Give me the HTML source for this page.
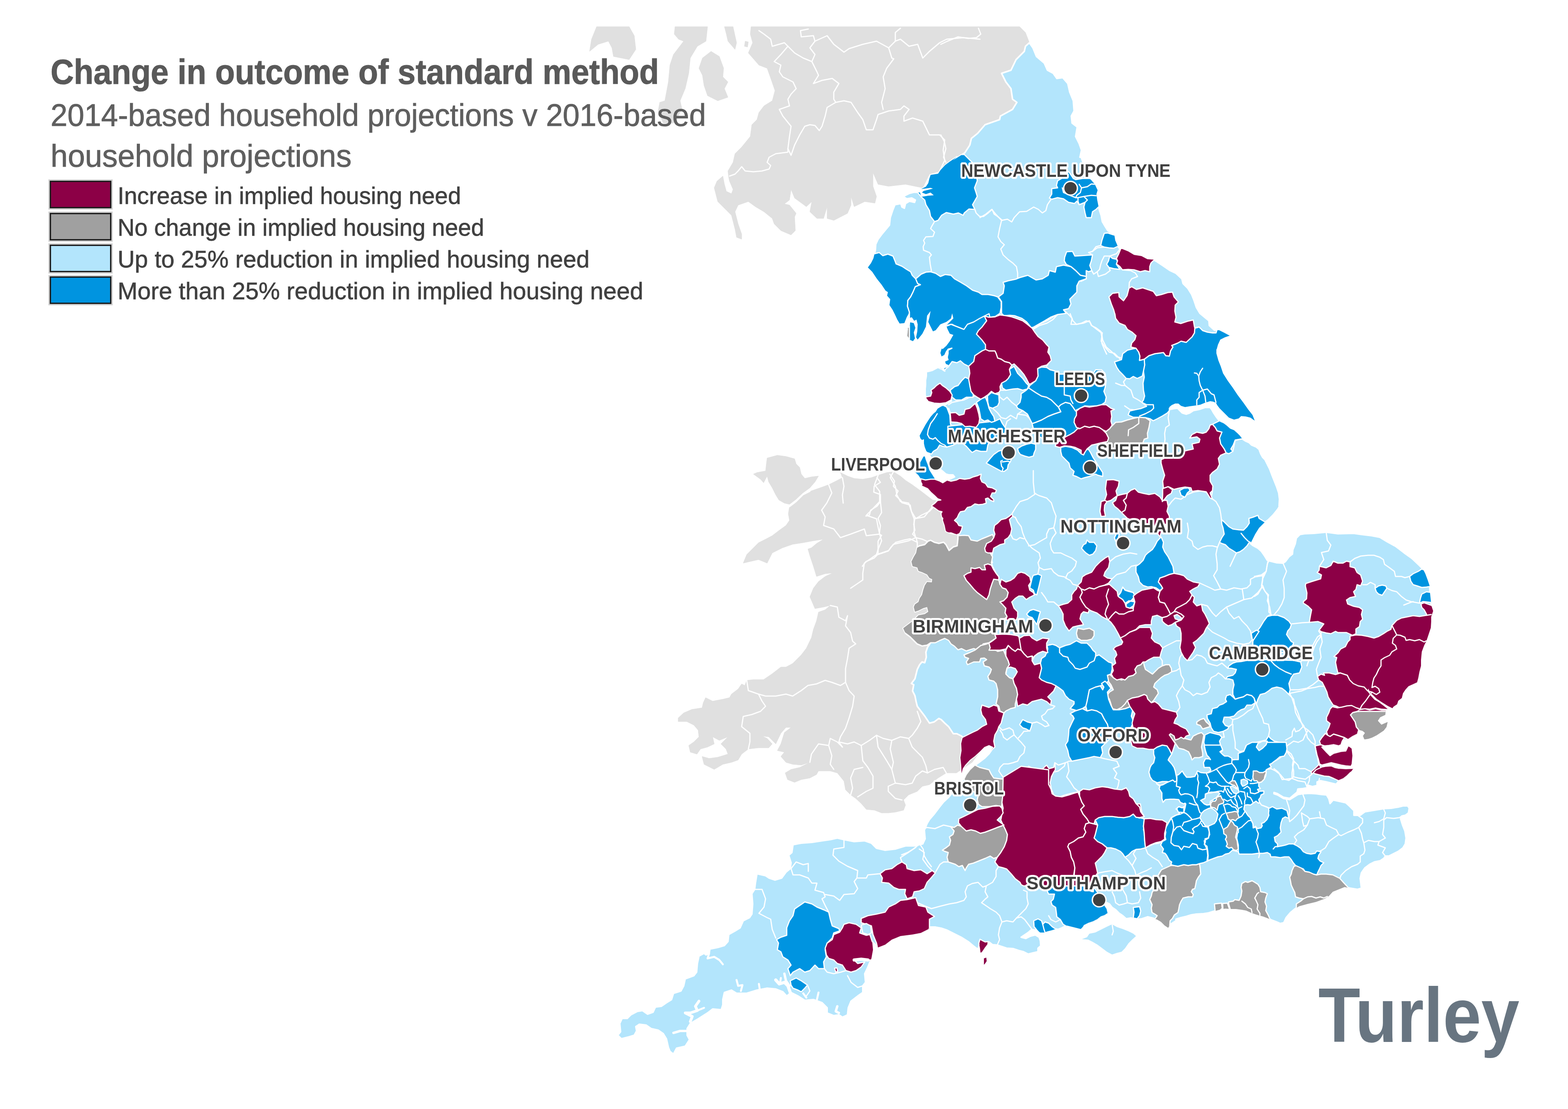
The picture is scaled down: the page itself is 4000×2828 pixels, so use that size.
<!DOCTYPE html>
<html lang="en">
<head>
<meta charset="utf-8">
<title>Change in outcome of standard method</title>
<style>
html,body{margin:0;padding:0;background:#fff;}
body{width:4000px;height:2828px;overflow:hidden;position:relative;font-family:"Liberation Sans",sans-serif;}
svg{position:absolute;left:0;top:0;display:block;}
.bg{fill:#e0e0e0;stroke:#e0e0e0;stroke-width:1;stroke-linejoin:round}
.lb{fill:#b3e5fc;stroke:#fff;stroke-width:3;stroke-linejoin:round}
.b{fill:#0094e0;stroke:#fff;stroke-width:3;stroke-linejoin:round}
.m{fill:#8c0046;stroke:#fff;stroke-width:3;stroke-linejoin:round}
.g{fill:#a0a0a0;stroke:#fff;stroke-width:3;stroke-linejoin:round}
.w{fill:#fff;stroke:none}
.gt{fill:#a0a0a0;stroke:#fff;stroke-width:3;stroke-linejoin:round}
.bt{fill:#0094e0;stroke:#fff;stroke-width:3;stroke-linejoin:round}
.mt{fill:#8c0046;stroke:#fff;stroke-width:3;stroke-linejoin:round}
.m0{fill:#8c0046}.b0{fill:#0094e0}.g0{fill:#a0a0a0}
.ln{fill:none;stroke:#fff;stroke-linejoin:round;stroke-linecap:round}
.ct{font-family:"Liberation Sans",sans-serif;font-weight:bold;font-size:47px;fill:#404040;stroke:#fff;stroke-width:10px;paint-order:stroke fill;stroke-linejoin:round}
.cd{fill:#404040;stroke:#fff;stroke-width:3.5}
.title{font-weight:bold;font-size:89px;fill:#595959;stroke:#595959;stroke-width:1.2px}
.sub{font-size:80px;fill:#5f5f5f;stroke:#5f5f5f;stroke-width:1px}
.lg{font-size:62px;fill:#404040;stroke:#404040;stroke-width:0.8px}
.sw{stroke:#1a1a1a;stroke-width:3.5}
.swo{fill:none;stroke:#d0d0d0;stroke-width:3}
.logo{font-weight:bold;font-size:196px;fill:#687581}
</style>
</head>
<body>
<svg xmlns="http://www.w3.org/2000/svg" width="4000" height="2828" viewBox="0 0 4000 2828">
<rect width="4000" height="2828" fill="#fff"/>
<g id="map">
<defs><clipPath id="eng"><polygon points="2626,109 2635,122 2644,144 2664,161 2672,179 2687,187 2696,200 2711,198 2724,213 2729,235 2738,257 2740,283 2733,296 2735,314 2748,324 2744,348 2753,366 2759,383 2755,401 2758,400 2761,409 2768,430 2780,455 2793,470 2800,485 2797,495 2799,510 2802,525 2805,537 2809,549 2812,565 2819,577 2826,588 2835,595 2843,601 2845,613 2851,627 2857,635 2863,635 2878,641 2893,650 2912,653 2927,661 2942,662 2951,667 2966,677 2985,690 3000,697 3015,711 3018,723 3030,735 3040,751 3046,766 3052,784 3061,799 3073,809 3084,818 3085,830 3098,842 3110,842 3122,848 3137,856 3125,860 3113,866 3107,879 3104,890 3103,891 3103,901 3108,919 3114,934 3120,952 3132,971 3145,989 3157,1007 3172,1027 3184,1044 3195,1058 3201,1073 3190,1065 3178,1062 3166,1061 3160,1067 3148,1070 3135,1065 3123,1053 3111,1041 3105,1033 3102,1027 3094,1024 3087,1023 3074,1027 3062,1032 3050,1034 3035,1036 3023,1038 3013,1035 3006,1029 2998,1029 2989,1033 2983,1038 2984,1044 2995,1042 3004,1041 3010,1047 3016,1053 3026,1056 3035,1053 3044,1047 3059,1044 3074,1039 3087,1039 3091,1044 3096,1053 3102,1062 3109,1071 3117,1076 3129,1085 3138,1093 3148,1097 3157,1105 3163,1111 3169,1119 3178,1125 3187,1129 3193,1135 3205,1140 3212,1146 3216,1157 3221,1166 3227,1172 3233,1184 3239,1196 3245,1212 3251,1227 3257,1242 3262,1257 3264,1273 3263,1290 3264,1291 3260,1298 3248,1313 3236,1325 3224,1334 3212,1346 3202,1362 3193,1380 3190,1386 3196,1391 3209,1398 3218,1406 3225,1416 3233,1429 3245,1432 3257,1435 3273,1436 3279,1432 3288,1420 3297,1413 3298,1402 3304,1387 3307,1372 3316,1363 3328,1361 3352,1360 3383,1357 3413,1361 3453,1360 3474,1363 3499,1366 3520,1370 3538,1381 3560,1393 3581,1409 3602,1424 3621,1442 3630,1451 3636,1463 3642,1479 3647,1494 3648,1512 3650,1530 3651,1543 3656,1558 3654,1564 3651,1573 3651,1585 3650,1601 3645,1616 3639,1634 3633,1646 3627,1662 3625,1683 3625,1698 3621,1713 3618,1729 3615,1740 3593,1750 3585,1759 3579,1768 3576,1780 3567,1787 3564,1796 3555,1802 3552,1806 3540,1800 3524,1790 3512,1782 3503,1773 3494,1765 3491,1756 3488,1762 3497,1774 3506,1784 3518,1791 3530,1800 3540,1808 3524,1807 3509,1804 3494,1807 3482,1806 3470,1807 3463,1812 3482,1809 3494,1812 3509,1809 3524,1812 3535,1812 3534,1823 3521,1829 3515,1838 3524,1848 3540,1841 3537,1854 3530,1863 3521,1869 3512,1875 3500,1881 3491,1884 3479,1886 3476,1878 3482,1869 3476,1864 3466,1861 3463,1872 3451,1878 3439,1886 3433,1887 3424,1890 3421,1899 3415,1902 3402,1899 3390,1901 3378,1902 3372,1905 3384,1918 3393,1927 3402,1921 3421,1916 3433,1915 3439,1902 3448,1909 3450,1927 3448,1948 3445,1954 3433,1953 3421,1951 3409,1948 3396,1945 3384,1948 3372,1951 3381,1954 3396,1953 3405,1957 3415,1959 3433,1960 3453,1959 3445,1970 3436,1979 3427,1986 3415,1991 3409,2000 3396,1997 3384,1994 3369,1991 3360,1994 3360,2003 3348,2006 3338,2003 3335,2009 3323,2011 3311,2012 3309,2020 3290,2036 3274,2033 3259,2024 3250,2021 3250,2024 3259,2027 3274,2036 3290,2039 3311,2026 3323,2024 3341,2023 3357,2024 3372,2026 3384,2027 3390,2037 3393,2049 3401,2040 3415,2043 3433,2047 3442,2055 3454,2067 3454,2079 3470,2079 3482,2070 3500,2067 3518,2064 3530,2062 3549,2061 3567,2058 3579,2055 3591,2055 3595,2061 3593,2073 3585,2079 3576,2081 3573,2088 3578,2104 3584,2119 3587,2137 3585,2152 3579,2162 3567,2171 3555,2177 3543,2183 3534,2183 3530,2189 3521,2195 3506,2198 3494,2204 3482,2213 3473,2226 3470,2240 3473,2265 3463,2268 3445,2265 3430,2262 3400,2274 3390,2285 3379,2292 3357,2300 3336,2305 3314,2311 3303,2318 3292,2327 3281,2340 3275,2353 3266,2355 3257,2351 3244,2346 3235,2342 3222,2337 3214,2335 3201,2331 3190,2327 3179,2322 3168,2320 3153,2318 3140,2318 3126,2317 3118,2318 3107,2321 3096,2324 3083,2328 3070,2330 3052,2331 3039,2333 3026,2337 3013,2340 3000,2344 3000,2348 2986,2357 2980,2366 2971,2360 2962,2351 2952,2345 2940,2341 2928,2338 2913,2343 2898,2345 2885,2341 2873,2343 2864,2335 2855,2329 2846,2320 2837,2314 2830,2305 2824,2302 2818,2308 2824,2317 2827,2329 2818,2335 2809,2338 2800,2345 2788,2351 2776,2355 2766,2360 2757,2369 2745,2366 2733,2363 2721,2360 2709,2366 2699,2370 2693,2369 2684,2372 2672,2375 2663,2378 2654,2378 2641,2372 2632,2370 2623,2378 2614,2384 2605,2390 2617,2393 2629,2387 2641,2384 2651,2390 2654,2399 2655,2412 2648,2418 2648,2427 2635,2430 2623,2433 2611,2427 2599,2424 2584,2419 2568,2418 2553,2413 2544,2410 2532,2409 2523,2402 2520,2409 2513,2418 2507,2427 2501,2430 2500,2418 2498,2409 2495,2421 2483,2412 2471,2402 2452,2390 2434,2381 2416,2372 2401,2367 2385,2364 2373,2364 2367,2369 2375,2366 2349,2379 2328,2383 2297,2387 2275,2396 2258,2409 2240,2416 2225,2401 2227,2422 2223,2444 2214,2466 2206,2483 2208,2505 2201,2514 2201,2531 2188,2540 2171,2553 2164,2570 2162,2588 2149,2594 2140,2588 2127,2590 2110,2583 2110,2570 2097,2557 2075,2549 2053,2551 2036,2540 2018,2531 2007,2540 1997,2529 1979,2522 1957,2520 1931,2525 1905,2533 1879,2533 1866,2525 1848,2531 1844,2549 1844,2562 1840,2575 1818,2573 1805,2583 1783,2597 1761,2610 1753,2623 1753,2640 1759,2651 1748,2668 1726,2673 1718,2688 1709,2681 1705,2671 1700,2649 1692,2636 1679,2627 1661,2623 1648,2614 1631,2612 1622,2618 1624,2629 1618,2640 1605,2644 1585,2649 1576,2640 1583,2631 1581,2610 1587,2597 1600,2597 1609,2588 1626,2579 1639,2577 1652,2586 1666,2581 1672,2568 1687,2566 1700,2557 1713,2549 1718,2533 1737,2527 1744,2514 1748,2496 1770,2488 1777,2479 1779,2457 1783,2438 1796,2431 1801,2435 1809,2431 1811,2420 1831,2416 1848,2411 1857,2401 1859,2383 1875,2374 1888,2366 1896,2348 1912,2340 1918,2331 1920,2305 1918,2279 1925,2268 1927,2252 1931,2228 1953,2233 1962,2239 1977,2244 1994,2239 2005,2224 2016,2215 2018,2200 2012,2181 2020,2174 2023,2154 2044,2150 2071,2148 2097,2144 2118,2141 2136,2137 2153,2141 2179,2146 2206,2144 2223,2150 2236,2163 2258,2168 2284,2165 2310,2157 2332,2157 2354,2152 2360,2139 2358,2117 2365,2100 2371,2090 2383,2076 2395,2060 2407,2045 2420,2033 2432,2018 2444,2002 2456,1989 2465,1977 2474,1964 2487,1952 2499,1943 2511,1934 2523,1922 2532,1909 2534,1905 2523,1900 2511,1905 2499,1917 2487,1928 2474,1938 2462,1951 2456,1960 2453,1972 2452,1951 2450,1932 2453,1914 2452,1896 2456,1880 2453,1877 2441,1871 2432,1871 2426,1862 2420,1853 2410,1844 2401,1835 2395,1832 2383,1841 2371,1844 2365,1835 2359,1826 2349,1813 2340,1801 2337,1789 2334,1774 2328,1762 2331,1746 2325,1743 2334,1731 2337,1719 2340,1707 2346,1695 2352,1688 2359,1690 2363,1676 2362,1663 2366,1651 2374,1639 2365,1645 2352,1647 2340,1642 2331,1633 2322,1624 2310,1615 2304,1602 2316,1593 2328,1584 2331,1581 2343,1569 2359,1566 2368,1560 2365,1548 2355,1551 2343,1557 2334,1560 2331,1548 2334,1541 2343,1535 2346,1526 2352,1517 2355,1505 2359,1493 2365,1484 2377,1485 2378,1477 2371,1474 2365,1465 2352,1459 2343,1456 2340,1447 2328,1444 2325,1432 2331,1420 2337,1410 2340,1395 2346,1392 2359,1389 2368,1380 2374,1378 2383,1383 2395,1386 2407,1383 2413,1389 2421,1404 2432,1395 2442,1392 2444,1374 2444,1363 2426,1360 2413,1355 2410,1340 2404,1322 2401,1305 2389,1298 2377,1290 2383,1285 2392,1277 2392,1277 2383,1263 2374,1255 2366,1246 2357,1242 2350,1239 2349,1221 2341,1213 2333,1202 2339,1191 2350,1172 2355,1163 2360,1162 2363,1172 2368,1185 2372,1198 2379,1209 2385,1220 2396,1225 2405,1230 2416,1224 2427,1220 2435,1216 2431,1211 2420,1211 2413,1209 2405,1202 2398,1196 2389,1193 2380,1181 2374,1166 2369,1157 2363,1150 2359,1140 2357,1131 2357,1120 2352,1122 2348,1118 2346,1111 2350,1103 2355,1094 2361,1083 2368,1072 2374,1063 2381,1055 2387,1050 2392,1042 2402,1036 2409,1034 2413,1031 2420,1027 2427,1022 2413,1027 2400,1029 2385,1029 2374,1027 2366,1023 2361,1013 2360,1005 2360,992 2361,981 2361,970 2363,959 2363,948 2372,946 2379,944 2392,937 2400,939 2410,946 2409,939 2418,936 2420,931 2413,928 2411,922 2420,918 2418,911 2420,902 2420,894 2430,889 2429,886 2418,889 2413,896 2409,905 2402,909 2399,900 2402,889 2405,890 2414,882 2423,870 2432,854 2423,851 2417,839 2414,830 2423,821 2432,812 2429,799 2426,812 2414,821 2399,827 2387,842 2380,845 2374,833 2368,821 2371,809 2374,793 2365,805 2362,833 2353,851 2341,866 2337,860 2340,845 2341,827 2338,815 2332,818 2326,809 2316,812 2320,796 2313,809 2307,824 2295,825 2289,815 2283,802 2277,790 2269,778 2271,763 2263,754 2265,745 2259,741 2249,726 2237,711 2225,693 2214,682 2222,671 2228,659 2231,647 2233,638 2234,623 2240,610 2249,598 2259,586 2269,574 2271,555 2277,537 2283,522 2298,519 2301,528 2307,531 2310,519 2320,513 2333,516 2335,510 2326,505 2313,507 2304,501 2320,493 2332,490 2347,491 2350,502 2368,499 2382,498 2374,491 2362,495 2352,491 2356,487 2368,484 2380,481 2374,479 2359,481 2350,482 2362,476 2368,467 2371,455 2374,446 2393,443 2399,434 2411,421 2423,412 2441,400 2400,436 2426,412 2461,390 2474,370 2478,353 2494,340 2513,318 2550,305 2552,296 2583,279 2594,261 2583,253 2579,226 2566,209 2555,187 2579,179 2592,152 2613,131 2616,118"/><polygon points="2322,822 2331,824 2335,836 2331,848 2334,863 2329,870 2320,866 2313,857 2315,839 2310,839 2320,833"/><polygon points="2760,2395 2773,2390 2779,2381 2794,2378 2806,2372 2824,2363 2837,2357 2849,2364 2864,2369 2879,2375 2891,2381 2898,2387 2888,2396 2879,2405 2870,2418 2861,2427 2849,2430 2837,2434 2824,2427 2812,2418 2800,2409 2788,2402 2776,2396"/><polygon points="2510,2444 2516,2442 2517,2451 2513,2457 2510,2460"/></clipPath></defs>
<g id="other">
<polygon class="bg" points="1916,68 2601,68 2616,83 2626,109 2616,118 2613,131 2592,152 2579,179 2555,187 2566,209 2579,226 2583,253 2594,261 2583,279 2552,296 2550,305 2513,318 2494,340 2478,353 2474,370 2461,390 2426,412 2400,436 2371,444 2354,479 2310,470 2267,475 2240,470 2227,440 2227,475 2236,501 2232,518 2206,514 2179,527 2171,501 2171,523 2162,544 2127,562 2110,557 2110,527 2101,557 2084,557 2066,540 2071,514 2057,527 2027,505 2018,483 2014,510 2001,520 2014,523 2031,544 2027,553 2029,588 2018,599 1992,588 1975,571 1970,557 1949,540 1927,527 1909,514 1883,523 1875,540 1883,571 1892,597 1892,610 1879,605 1875,584 1866,549 1848,531 1831,514 1822,479 1829,462 1844,449 1848,470 1853,488 1866,494 1870,483 1861,462 1859,453 1857,436 1870,414 1875,392 1892,375 1914,348 1918,318 1931,305 1936,287 1949,270 1970,257 1977,231 1968,205 1957,174 1936,166 1909,135 1920,109 1914,87"/>
<polygon class="bg" points="1814,131 1835,144 1846,174 1844,196 1857,209 1848,226 1857,248 1831,257 1805,244 1796,218 1792,192 1783,174 1792,148"/>
<polygon class="bg" points="1722,68 1805,68 1801,105 1779,118 1761,148 1757,187 1748,226 1735,257 1740,279 1718,314 1692,314 1679,283 1683,261 1696,257 1705,209 1709,166 1718,139 1744,105 1731,100 1720,87"/>
<polygon class="bg" points="1522,68 1605,68 1618,91 1622,126 1605,152 1565,144 1561,122 1552,105 1526,113 1504,131 1509,100"/>
<polygon class="bg" points="1848,68 1870,68 1879,109 1875,126 1857,105 1853,87"/>
<polygon class="bg" points="1901,105 1909,107 1907,120 1899,118"/>
<polygon class="bg" points="1957,1168 1983,1161 2005,1164 2027,1170 2031,1183 2040,1192 2044,1209 2053,1220 2070,1216 2088,1214 2079,1229 2066,1244 2048,1257 2031,1273 2014,1286 2001,1283 1987,1275 1979,1262 1970,1244 1961,1229 1957,1214 1948,1231 1940,1222 1922,1209 1931,1205 1953,1201 1955,1183"/>
<polygon class="bg" points="2014,1292 2031,1279 2048,1262 2066,1253 2092,1244 2114,1236 2136,1225 2149,1218 2144,1205 2162,1214 2179,1220 2201,1222 2223,1218 2240,1212 2262,1205 2279,1203 2297,1214 2310,1225 2327,1236 2345,1249 2362,1262 2379,1275 2406,1279 2484,1279 2528,1487 2528,1879 2480,1944 2453,1962 2440,1971 2414,1971 2393,1984 2371,2001 2353,2005 2340,2018 2318,2027 2305,2040 2310,2053 2305,2066 2284,2071 2266,2073 2249,2073 2231,2066 2210,2064 2197,2049 2183,2036 2170,2027 2157,2014 2153,1992 2136,1971 2118,1966 2088,1966 2083,1975 2066,1984 2044,1988 2027,1995 2009,1988 2003,1971 2018,1962 2040,1957 2066,1944 2044,1951 2022,1949 2005,1944 1992,1929 2001,1918 1983,1914 1992,1897 2001,1868 2018,1855 2005,1855 1992,1870 1979,1897 1961,1879 1944,1877 1957,1883 1970,1897 1961,1907 1935,1907 1909,1910 1892,1923 1883,1938 1866,1944 1844,1949 1822,1962 1796,1949 1791,1929 1809,1934 1831,1931 1857,1923 1852,1910 1839,1897 1857,1879 1835,1888 1818,1879 1822,1897 1805,1905 1787,1910 1778,1923 1761,1918 1757,1901 1770,1892 1783,1879 1781,1862 1770,1849 1752,1840 1730,1840 1730,1831 1744,1818 1765,1809 1791,1805 1794,1792 1800,1779 1818,1788 1844,1783 1861,1779 1866,1770 1883,1757 1892,1744 1900,1748 1905,1735 1922,1733 1948,1733 1970,1718 1992,1701 2005,1701 2022,1692 2044,1670 2057,1653 2070,1626 2075,1605 2083,1583 2088,1561 2105,1555 2118,1544 2101,1548 2079,1552 2070,1531 2066,1522 2075,1500 2088,1483 2105,1470 2125,1461 2105,1463 2083,1470 2075,1444 2066,1417 2061,1400 2070,1397 2083,1386 2101,1375 2075,1379 2048,1384 2022,1388 1996,1397 1970,1410 1957,1436 1935,1427 1913,1432 1896,1436 1905,1414 1918,1401 1935,1384 1953,1375 1970,1366 1987,1353 2005,1340 2014,1327 2011,1310"/>
<polyline class="ln" stroke-width="3" points="2118,1544 2136,1548 2140,1574 2157,1583 2162,1570 2157,1596 2170,1613 2175,1635 2183,1642 2166,1653 2162,1679 2157,1705 2157,1740 2166,1761 2179,1775 2175,1801 2166,1831 2157,1857 2144,1879 2140,1892 2149,1905"/>
<polyline class="ln" stroke-width="3" points="1905,1735 1909,1761 1935,1770 1953,1775 1979,1775 2005,1770 2022,1775 2044,1761 2061,1748 2083,1744 2105,1735 2122,1740 2144,1748 2157,1740"/>
<polyline class="ln" stroke-width="3" points="1935,1770 1944,1788 1953,1801 1940,1814 1918,1822 1896,1827 1892,1853 1913,1870 1913,1892 1909,1910"/>
<polyline class="ln" stroke-width="3" points="2140,1892 2162,1897 2179,1892 2197,1901 2218,1888 2236,1875 2253,1883 2275,1888 2297,1879 2318,1883 2327,1875 2340,1857 2349,1840 2340,1814"/>
<polyline class="ln" stroke-width="3" points="2149,1905 2136,1892 2118,1883 2114,1901 2088,1897 2070,1923 2066,1944"/>
<polyline class="ln" stroke-width="3" points="2114,1901 2122,1927 2118,1949 2127,1962"/>
<polyline class="ln" stroke-width="3" points="2197,1901 2201,1940 2214,1957 2227,1979 2227,2010 2210,2018 2188,2032"/>
<polyline class="ln" stroke-width="3" points="2236,1875 2240,1905 2262,1940 2275,1962 2284,1997 2266,2005 2266,2018 2284,2036 2301,2040"/>
<polyline class="ln" stroke-width="3" points="2275,1888 2271,1910 2279,1944 2275,1962"/>
<polyline class="ln" stroke-width="3" points="2284,1997 2310,2001 2327,1997 2336,1979 2353,1966 2366,1971 2384,1962 2406,1957 2414,1971"/>
<polyline class="ln" stroke-width="3" points="2318,1883 2327,1905 2340,1918 2353,1931 2362,1953 2366,1971"/>
<polyline class="ln" stroke-width="3" points="2170,2027 2175,2010 2170,1984 2179,1962 2201,1957"/>
<polyline class="ln" stroke-width="3" points="2114,1236 2122,1257 2109,1283 2096,1301 2105,1318 2101,1340 2127,1349 2144,1371 2170,1362 2205,1349 2210,1366 2244,1362 2249,1379 2240,1401 2236,1414 2205,1436 2201,1462 2201,1479 2170,1500"/>
<polyline class="ln" stroke-width="3" points="2149,1218 2153,1240 2149,1262 2151,1283"/>
<polyline class="ln" stroke-width="3" points="2240,1212 2231,1236 2244,1253 2244,1279 2223,1301 2210,1314 2236,1323 2240,1344 2244,1362"/>
<polyline class="ln" stroke-width="3" points="2279,1203 2271,1218 2284,1240 2288,1262 2297,1279 2318,1283 2327,1310 2332,1323 2358,1318 2379,1292"/>
<polyline class="ln" stroke-width="3" points="2332,1323 2332,1357 2336,1371 2318,1379 2279,1388 2266,1405 2240,1414"/>
<polyline class="ln" stroke-width="3" points="2336,1371 2353,1375 2366,1381"/>
<polyline class="ln" stroke-width="3" points="2014,1292 2031,1279 2048,1262 2066,1253"/>
<polyline class="ln" stroke-width="3" points="1936,78 1949,87 1966,100 1970,118 2001,109 2010,118 2027,135 2049,148 2071,157 2079,139 2066,122 2079,105 2075,91 2044,94 2042,78 2062,74"/>
<polyline class="ln" stroke-width="3" points="2071,157 2084,183 2088,192 2075,213 2097,205 2123,200 2140,213 2127,235 2127,253 2132,261 2110,274 2105,296 2097,322 2090,333 2079,320 2066,318 2053,322 2040,344 2027,370 2018,396 2010,379 2010,388 1979,392 1962,401 1957,414 1966,422 1962,431 1944,436 1922,438 1901,436 1892,425 1883,436 1875,444 1861,449"/>
<polyline class="ln" stroke-width="3" points="2010,118 1992,139 1975,157 1992,166 1988,183 1997,196 2023,209 2031,226 2018,240 2010,253 2014,270 1988,279 1997,296 2018,322 2014,348 2010,379"/>
<polyline class="ln" stroke-width="3" points="2132,261 2153,257 2171,261 2188,287 2201,305 2210,331 2227,331 2236,305 2240,292 2267,283 2297,279 2306,270 2319,279 2306,296 2306,309 2328,301 2354,309 2371,344 2397,344 2410,357 2406,383 2410,409 2397,436"/>
<polyline class="ln" stroke-width="3" points="2079,105 2110,91 2127,113 2153,133 2166,124 2201,113 2236,105 2267,122 2284,105 2297,100 2319,118 2341,113 2354,148 2371,131 2397,109 2415,100 2458,96 2500,100"/>
<polyline class="ln" stroke-width="3" points="2267,122 2275,148 2280,150 2262,174 2253,196 2258,226 2249,261 2253,279"/>
<polyline class="ln" stroke-width="3" points="2284,105 2284,83 2297,72"/>
<polyline class="ln" stroke-width="3" points="2400,113 2417,105 2444,94 2470,98 2491,96 2502,87 2496,72"/>
<polyline class="ln" stroke-width="3" points="2400,344 2409,361 2413,379 2407,401 2413,414"/>
<polyline class="ln" stroke-width="3" points="2237,1218 2246,1230 2230,1240 2229,1255 2246,1261 2246,1279 2237,1291 2221,1301 2218,1313 2209,1316"/>
<polyline class="ln" stroke-width="3" points="2270,1209 2282,1227 2279,1240 2291,1252 2285,1264 2298,1276 2301,1282 2322,1288 2325,1304 2334,1319 2337,1322 2352,1313 2371,1304 2383,1291"/>
<polyline class="ln" stroke-width="3" points="2334,1322 2331,1337 2334,1352 2328,1362 2337,1371 2340,1383 2340,1395"/>
<polyline class="ln" stroke-width="3" points="2340,1383 2322,1374 2307,1377 2285,1383 2273,1395 2267,1404 2240,1413 2230,1423 2209,1432 2200,1444"/>
<polyline class="ln" stroke-width="3" points="2246,1279 2249,1307 2240,1322 2246,1340 2243,1362 2249,1365 2240,1380 2240,1395 2240,1413"/>
</g>
<polygon points="2626,109 2635,122 2644,144 2664,161 2672,179 2687,187 2696,200 2711,198 2724,213 2729,235 2738,257 2740,283 2733,296 2735,314 2748,324 2744,348 2753,366 2759,383 2755,401 2758,400 2761,409 2768,430 2780,455 2793,470 2800,485 2797,495 2799,510 2802,525 2805,537 2809,549 2812,565 2819,577 2826,588 2835,595 2843,601 2845,613 2851,627 2857,635 2863,635 2878,641 2893,650 2912,653 2927,661 2942,662 2951,667 2966,677 2985,690 3000,697 3015,711 3018,723 3030,735 3040,751 3046,766 3052,784 3061,799 3073,809 3084,818 3085,830 3098,842 3110,842 3122,848 3137,856 3125,860 3113,866 3107,879 3104,890 3103,891 3103,901 3108,919 3114,934 3120,952 3132,971 3145,989 3157,1007 3172,1027 3184,1044 3195,1058 3201,1073 3190,1065 3178,1062 3166,1061 3160,1067 3148,1070 3135,1065 3123,1053 3111,1041 3105,1033 3102,1027 3094,1024 3087,1023 3074,1027 3062,1032 3050,1034 3035,1036 3023,1038 3013,1035 3006,1029 2998,1029 2989,1033 2983,1038 2984,1044 2995,1042 3004,1041 3010,1047 3016,1053 3026,1056 3035,1053 3044,1047 3059,1044 3074,1039 3087,1039 3091,1044 3096,1053 3102,1062 3109,1071 3117,1076 3129,1085 3138,1093 3148,1097 3157,1105 3163,1111 3169,1119 3178,1125 3187,1129 3193,1135 3205,1140 3212,1146 3216,1157 3221,1166 3227,1172 3233,1184 3239,1196 3245,1212 3251,1227 3257,1242 3262,1257 3264,1273 3263,1290 3264,1291 3260,1298 3248,1313 3236,1325 3224,1334 3212,1346 3202,1362 3193,1380 3190,1386 3196,1391 3209,1398 3218,1406 3225,1416 3233,1429 3245,1432 3257,1435 3273,1436 3279,1432 3288,1420 3297,1413 3298,1402 3304,1387 3307,1372 3316,1363 3328,1361 3352,1360 3383,1357 3413,1361 3453,1360 3474,1363 3499,1366 3520,1370 3538,1381 3560,1393 3581,1409 3602,1424 3621,1442 3630,1451 3636,1463 3642,1479 3647,1494 3648,1512 3650,1530 3651,1543 3656,1558 3654,1564 3651,1573 3651,1585 3650,1601 3645,1616 3639,1634 3633,1646 3627,1662 3625,1683 3625,1698 3621,1713 3618,1729 3615,1740 3593,1750 3585,1759 3579,1768 3576,1780 3567,1787 3564,1796 3555,1802 3552,1806 3540,1800 3524,1790 3512,1782 3503,1773 3494,1765 3491,1756 3488,1762 3497,1774 3506,1784 3518,1791 3530,1800 3540,1808 3524,1807 3509,1804 3494,1807 3482,1806 3470,1807 3463,1812 3482,1809 3494,1812 3509,1809 3524,1812 3535,1812 3534,1823 3521,1829 3515,1838 3524,1848 3540,1841 3537,1854 3530,1863 3521,1869 3512,1875 3500,1881 3491,1884 3479,1886 3476,1878 3482,1869 3476,1864 3466,1861 3463,1872 3451,1878 3439,1886 3433,1887 3424,1890 3421,1899 3415,1902 3402,1899 3390,1901 3378,1902 3372,1905 3384,1918 3393,1927 3402,1921 3421,1916 3433,1915 3439,1902 3448,1909 3450,1927 3448,1948 3445,1954 3433,1953 3421,1951 3409,1948 3396,1945 3384,1948 3372,1951 3381,1954 3396,1953 3405,1957 3415,1959 3433,1960 3453,1959 3445,1970 3436,1979 3427,1986 3415,1991 3409,2000 3396,1997 3384,1994 3369,1991 3360,1994 3360,2003 3348,2006 3338,2003 3335,2009 3323,2011 3311,2012 3309,2020 3290,2036 3274,2033 3259,2024 3250,2021 3250,2024 3259,2027 3274,2036 3290,2039 3311,2026 3323,2024 3341,2023 3357,2024 3372,2026 3384,2027 3390,2037 3393,2049 3401,2040 3415,2043 3433,2047 3442,2055 3454,2067 3454,2079 3470,2079 3482,2070 3500,2067 3518,2064 3530,2062 3549,2061 3567,2058 3579,2055 3591,2055 3595,2061 3593,2073 3585,2079 3576,2081 3573,2088 3578,2104 3584,2119 3587,2137 3585,2152 3579,2162 3567,2171 3555,2177 3543,2183 3534,2183 3530,2189 3521,2195 3506,2198 3494,2204 3482,2213 3473,2226 3470,2240 3473,2265 3463,2268 3445,2265 3430,2262 3400,2274 3390,2285 3379,2292 3357,2300 3336,2305 3314,2311 3303,2318 3292,2327 3281,2340 3275,2353 3266,2355 3257,2351 3244,2346 3235,2342 3222,2337 3214,2335 3201,2331 3190,2327 3179,2322 3168,2320 3153,2318 3140,2318 3126,2317 3118,2318 3107,2321 3096,2324 3083,2328 3070,2330 3052,2331 3039,2333 3026,2337 3013,2340 3000,2344 3000,2348 2986,2357 2980,2366 2971,2360 2962,2351 2952,2345 2940,2341 2928,2338 2913,2343 2898,2345 2885,2341 2873,2343 2864,2335 2855,2329 2846,2320 2837,2314 2830,2305 2824,2302 2818,2308 2824,2317 2827,2329 2818,2335 2809,2338 2800,2345 2788,2351 2776,2355 2766,2360 2757,2369 2745,2366 2733,2363 2721,2360 2709,2366 2699,2370 2693,2369 2684,2372 2672,2375 2663,2378 2654,2378 2641,2372 2632,2370 2623,2378 2614,2384 2605,2390 2617,2393 2629,2387 2641,2384 2651,2390 2654,2399 2655,2412 2648,2418 2648,2427 2635,2430 2623,2433 2611,2427 2599,2424 2584,2419 2568,2418 2553,2413 2544,2410 2532,2409 2523,2402 2520,2409 2513,2418 2507,2427 2501,2430 2500,2418 2498,2409 2495,2421 2483,2412 2471,2402 2452,2390 2434,2381 2416,2372 2401,2367 2385,2364 2373,2364 2367,2369 2375,2366 2349,2379 2328,2383 2297,2387 2275,2396 2258,2409 2240,2416 2225,2401 2227,2422 2223,2444 2214,2466 2206,2483 2208,2505 2201,2514 2201,2531 2188,2540 2171,2553 2164,2570 2162,2588 2149,2594 2140,2588 2127,2590 2110,2583 2110,2570 2097,2557 2075,2549 2053,2551 2036,2540 2018,2531 2007,2540 1997,2529 1979,2522 1957,2520 1931,2525 1905,2533 1879,2533 1866,2525 1848,2531 1844,2549 1844,2562 1840,2575 1818,2573 1805,2583 1783,2597 1761,2610 1753,2623 1753,2640 1759,2651 1748,2668 1726,2673 1718,2688 1709,2681 1705,2671 1700,2649 1692,2636 1679,2627 1661,2623 1648,2614 1631,2612 1622,2618 1624,2629 1618,2640 1605,2644 1585,2649 1576,2640 1583,2631 1581,2610 1587,2597 1600,2597 1609,2588 1626,2579 1639,2577 1652,2586 1666,2581 1672,2568 1687,2566 1700,2557 1713,2549 1718,2533 1737,2527 1744,2514 1748,2496 1770,2488 1777,2479 1779,2457 1783,2438 1796,2431 1801,2435 1809,2431 1811,2420 1831,2416 1848,2411 1857,2401 1859,2383 1875,2374 1888,2366 1896,2348 1912,2340 1918,2331 1920,2305 1918,2279 1925,2268 1927,2252 1931,2228 1953,2233 1962,2239 1977,2244 1994,2239 2005,2224 2016,2215 2018,2200 2012,2181 2020,2174 2023,2154 2044,2150 2071,2148 2097,2144 2118,2141 2136,2137 2153,2141 2179,2146 2206,2144 2223,2150 2236,2163 2258,2168 2284,2165 2310,2157 2332,2157 2354,2152 2360,2139 2358,2117 2365,2100 2371,2090 2383,2076 2395,2060 2407,2045 2420,2033 2432,2018 2444,2002 2456,1989 2465,1977 2474,1964 2487,1952 2499,1943 2511,1934 2523,1922 2532,1909 2534,1905 2523,1900 2511,1905 2499,1917 2487,1928 2474,1938 2462,1951 2456,1960 2453,1972 2452,1951 2450,1932 2453,1914 2452,1896 2456,1880 2453,1877 2441,1871 2432,1871 2426,1862 2420,1853 2410,1844 2401,1835 2395,1832 2383,1841 2371,1844 2365,1835 2359,1826 2349,1813 2340,1801 2337,1789 2334,1774 2328,1762 2331,1746 2325,1743 2334,1731 2337,1719 2340,1707 2346,1695 2352,1688 2359,1690 2363,1676 2362,1663 2366,1651 2374,1639 2365,1645 2352,1647 2340,1642 2331,1633 2322,1624 2310,1615 2304,1602 2316,1593 2328,1584 2331,1581 2343,1569 2359,1566 2368,1560 2365,1548 2355,1551 2343,1557 2334,1560 2331,1548 2334,1541 2343,1535 2346,1526 2352,1517 2355,1505 2359,1493 2365,1484 2377,1485 2378,1477 2371,1474 2365,1465 2352,1459 2343,1456 2340,1447 2328,1444 2325,1432 2331,1420 2337,1410 2340,1395 2346,1392 2359,1389 2368,1380 2374,1378 2383,1383 2395,1386 2407,1383 2413,1389 2421,1404 2432,1395 2442,1392 2444,1374 2444,1363 2426,1360 2413,1355 2410,1340 2404,1322 2401,1305 2389,1298 2377,1290 2383,1285 2392,1277 2392,1277 2383,1263 2374,1255 2366,1246 2357,1242 2350,1239 2349,1221 2341,1213 2333,1202 2339,1191 2350,1172 2355,1163 2360,1162 2363,1172 2368,1185 2372,1198 2379,1209 2385,1220 2396,1225 2405,1230 2416,1224 2427,1220 2435,1216 2431,1211 2420,1211 2413,1209 2405,1202 2398,1196 2389,1193 2380,1181 2374,1166 2369,1157 2363,1150 2359,1140 2357,1131 2357,1120 2352,1122 2348,1118 2346,1111 2350,1103 2355,1094 2361,1083 2368,1072 2374,1063 2381,1055 2387,1050 2392,1042 2402,1036 2409,1034 2413,1031 2420,1027 2427,1022 2413,1027 2400,1029 2385,1029 2374,1027 2366,1023 2361,1013 2360,1005 2360,992 2361,981 2361,970 2363,959 2363,948 2372,946 2379,944 2392,937 2400,939 2410,946 2409,939 2418,936 2420,931 2413,928 2411,922 2420,918 2418,911 2420,902 2420,894 2430,889 2429,886 2418,889 2413,896 2409,905 2402,909 2399,900 2402,889 2405,890 2414,882 2423,870 2432,854 2423,851 2417,839 2414,830 2423,821 2432,812 2429,799 2426,812 2414,821 2399,827 2387,842 2380,845 2374,833 2368,821 2371,809 2374,793 2365,805 2362,833 2353,851 2341,866 2337,860 2340,845 2341,827 2338,815 2332,818 2326,809 2316,812 2320,796 2313,809 2307,824 2295,825 2289,815 2283,802 2277,790 2269,778 2271,763 2263,754 2265,745 2259,741 2249,726 2237,711 2225,693 2214,682 2222,671 2228,659 2231,647 2233,638 2234,623 2240,610 2249,598 2259,586 2269,574 2271,555 2277,537 2283,522 2298,519 2301,528 2307,531 2310,519 2320,513 2333,516 2335,510 2326,505 2313,507 2304,501 2320,493 2332,490 2347,491 2350,502 2368,499 2382,498 2374,491 2362,495 2352,491 2356,487 2368,484 2380,481 2374,479 2359,481 2350,482 2362,476 2368,467 2371,455 2374,446 2393,443 2399,434 2411,421 2423,412 2441,400 2400,436 2426,412 2461,390 2474,370 2478,353 2494,340 2513,318 2550,305 2552,296 2583,279 2594,261 2583,253 2579,226 2566,209 2555,187 2579,179 2592,152 2613,131 2616,118" fill="#b3e5fc" stroke="#fff" stroke-width="4" stroke-linejoin="round"/>
<polygon points="2322,822 2331,824 2335,836 2331,848 2334,863 2329,870 2320,866 2313,857 2315,839 2310,839 2320,833" fill="#b3e5fc"/>
<polygon points="2760,2395 2773,2390 2779,2381 2794,2378 2806,2372 2824,2363 2837,2357 2849,2364 2864,2369 2879,2375 2891,2381 2898,2387 2888,2396 2879,2405 2870,2418 2861,2427 2849,2430 2837,2434 2824,2427 2812,2418 2800,2409 2788,2402 2776,2396" fill="#b3e5fc"/>
<polygon points="2510,2444 2516,2442 2517,2451 2513,2457 2510,2460" fill="#b3e5fc"/>
<g id="england" clip-path="url(#eng)">
<polyline class="ln" stroke-width="3" points="2384,565 2377,577 2374,583 2384,592 2380,603 2362,604 2356,613 2359,620 2355,629 2356,638 2371,644 2376,650 2371,656 2373,674 2376,690 2374,693"/>
<polyline class="ln" stroke-width="3" points="2487,534 2490,543 2499,552 2509,552 2521,543 2531,534 2536,546 2545,552 2557,562"/>
<polyline class="ln" stroke-width="3" points="2800,840 2812,849 2809,870 2821,888 2830,898 2843,901 2858,916 2861,917"/>
<polyline class="ln" stroke-width="3" points="2873,965 2866,974 2870,983 2885,995 2891,1013 2904,1020 2913,1026"/>
<polyline class="ln" stroke-width="3" points="2846,977 2861,983 2870,983"/>
<polyline class="ln" stroke-width="3" points="2869,1035 2882,1044 2891,1045"/>
<polyline class="ln" stroke-width="3" points="2983,1047 2980,1065 2983,1084 2974,1090 2971,1105 2972,1120 2971,1129"/>
<polyline class="ln" stroke-width="3" points="3145,1151 3151,1123 3169,1119"/>
<polyline class="ln" stroke-width="3" points="3050,835 3059,834 3068,843 3080,847 3093,849 3102,849 3105,841"/>
<polyline class="ln" stroke-width="3" points="2500,555 2515,546 2530,534 2540,546 2555,562 2570,559 2581,566 2587,555 2601,540 2619,539 2637,528 2649,534 2659,543 2668,537 2672,522 2680,510 2683,508"/>
<polyline class="ln" stroke-width="3" points="2555,562 2550,583 2546,604 2553,616 2562,624 2553,635 2559,650 2572,662 2584,671 2593,680 2596,696 2596,708"/>
<polyline class="ln" stroke-width="3" points="2808,626 2796,629 2787,641 2777,644 2787,650"/>
<polyline class="ln" stroke-width="3" points="2787,641 2799,632 2817,630"/>
<polyline class="ln" stroke-width="3" points="2857,635 2848,647 2831,653 2817,653 2811,665 2808,674 2805,687 2799,693"/>
<polyline class="ln" stroke-width="3" points="2785,690 2790,699 2799,693 2802,705 2820,699 2832,690 2829,682"/>
<polyline class="ln" stroke-width="3" points="2863,688 2884,690 2896,696 2902,705 2887,711 2881,720 2880,735"/>
<polyline class="ln" stroke-width="3" points="2713,790 2726,802 2735,812 2732,827 2747,827 2759,824 2771,818 2780,821 2784,830 2796,836 2808,845 2811,860 2811,876 2817,890 2823,903"/>
<polyline class="ln" stroke-width="3" points="2637,839 2652,830 2671,824 2686,815 2698,802"/>
<polyline class="ln" stroke-width="3" points="2771,711 2759,717 2753,717"/>
<polyline class="ln" stroke-width="3" points="2636,837 2651,827 2670,818 2685,809 2700,800"/>
<polyline class="ln" stroke-width="3" points="2676,885 2676,925 2670,934"/>
<polyline class="ln" stroke-width="3" points="2730,800 2737,818 2746,827 2764,824 2779,818 2785,830 2798,840 2810,849 2813,867 2822,885 2837,898 2849,910 2862,913"/>
<polyline class="ln" stroke-width="3" points="2548,1001 2551,1013 2560,1020 2569,1013 2581,1026 2593,1035"/>
<polyline class="ln" stroke-width="3" points="2549,995 2566,995"/>
<polyline class="ln" stroke-width="3" points="2532,1041 2545,1053 2554,1065 2566,1068 2578,1059 2593,1068 2596,1056 2609,1047"/>
<polyline class="ln" stroke-width="3" points="2563,1093 2569,1074 2578,1068"/>
<polyline class="ln" stroke-width="3" points="2596,1056 2618,1059 2627,1068"/>
<polyline class="ln" stroke-width="3" points="2420,1032 2429,1026 2444,1023 2459,1020 2474,1013 2487,1010"/>
<polyline class="ln" stroke-width="3" points="2424,1053 2420,1041"/>
<polyline class="ln" stroke-width="3" points="2581,1311 2593,1291 2602,1279 2621,1273 2639,1261 2642,1258"/>
<polyline class="ln" stroke-width="3" points="2636,1200 2636,1230 2639,1258 2651,1264 2670,1270 2682,1282 2688,1301 2694,1316 2691,1334 2688,1346"/>
<polyline class="ln" stroke-width="3" points="2572,1322 2578,1316 2590,1319 2596,1331 2605,1343 2609,1359 2615,1374 2624,1389 2633,1398 2651,1410 2654,1423 2648,1435 2651,1447 2648,1462"/>
<polyline class="ln" stroke-width="3" points="2578,1362 2584,1374 2593,1377 2602,1371 2612,1374"/>
<polyline class="ln" stroke-width="3" points="2688,1346 2676,1349 2670,1362 2670,1371 2654,1380 2639,1389 2624,1392"/>
<polyline class="ln" stroke-width="3" points="2688,1346 2694,1359 2685,1371 2679,1386 2682,1401 2688,1410 2706,1410 2718,1416 2734,1423 2746,1432 2743,1444 2734,1456 2724,1462 2718,1474 2730,1480 2737,1490 2749,1493"/>
<polyline class="ln" stroke-width="3" points="2651,1447 2663,1453 2682,1450 2688,1459 2700,1468 2715,1471 2721,1474"/>
<polyline class="ln" stroke-width="3" points="2657,1511 2666,1523 2673,1535 2688,1535 2700,1545"/>
<polyline class="ln" stroke-width="3" points="2532,1410 2529,1426 2532,1435"/>
<polyline class="ln" stroke-width="3" points="2831,1432 2846,1420 2865,1413 2883,1410 2900,1413"/>
<polyline class="ln" stroke-width="3" points="2837,1476 2849,1465 2871,1459 2886,1444 2900,1441"/>
<polyline class="ln" stroke-width="3" points="3088,1200 3085,1218 3090,1234 3093,1252 3090,1270 3102,1279 3111,1295 3114,1310 3116,1325"/>
<polyline class="ln" stroke-width="3" points="3111,1383 3105,1398 3102,1413 3105,1438 3105,1453 3096,1468 3105,1484 3111,1496 3114,1502"/>
<polyline class="ln" stroke-width="3" points="2980,1291 2989,1279 2998,1270 3013,1273 3029,1261 3044,1255 3062,1252 3077,1255 3090,1270"/>
<polyline class="ln" stroke-width="3" points="3029,1334 3032,1352 3029,1371 3041,1380 3044,1392 3056,1401 3068,1395 3080,1392 3093,1392 3105,1395"/>
<polyline class="ln" stroke-width="3" points="3154,1410 3145,1429 3138,1444"/>
<polyline class="ln" stroke-width="3" points="3061,1487 3074,1493 3087,1499 3099,1505 3114,1502 3129,1505 3148,1499 3166,1502 3181,1499 3190,1490 3190,1477 3202,1471 3221,1468 3230,1456 3233,1438 3236,1432"/>
<polyline class="ln" stroke-width="3" points="3169,1502 3173,1529"/>
<polyline class="ln" stroke-width="3" points="3129,1548 3173,1529 3193,1525 3209,1511 3218,1499 3221,1480 3221,1468"/>
<polyline class="ln" stroke-width="3" points="3065,1541 3080,1545 3093,1563 3102,1572 3114,1560 3129,1548"/>
<polyline class="ln" stroke-width="3" points="3129,1548 3135,1563 3148,1578 3160,1572 3169,1584 3181,1596 3190,1609 3193,1627"/>
<polyline class="ln" stroke-width="3" points="3221,1493 3227,1508 3236,1517 3233,1532 3239,1548 3242,1566 3233,1572"/>
<polyline class="ln" stroke-width="3" points="3383,1357 3386,1378 3395,1390 3389,1405 3371,1409 3377,1427 3366,1444"/>
<polyline class="ln" stroke-width="3" points="3444,1433 3456,1424 3471,1418 3490,1416 3505,1416 3520,1421 3529,1427 3532,1439 3545,1448 3557,1457 3560,1470 3575,1470 3584,1473 3596,1470"/>
<polyline class="ln" stroke-width="3" points="3476,1491 3487,1491 3496,1485 3508,1491 3508,1500"/>
<polyline class="ln" stroke-width="3" points="3538,1500 3551,1506 3563,1509 3575,1521 3587,1530 3599,1534 3621,1538"/>
<polyline class="ln" stroke-width="3" points="3581,1543 3596,1537 3605,1534"/>
<polyline class="ln" stroke-width="3" points="3273,1436 3282,1457 3273,1479 3276,1500 3276,1524 3270,1540 3261,1555 3249,1569"/>
<polyline class="ln" stroke-width="3" points="3234,1433 3230,1457 3221,1476 3218,1494 3224,1503 3234,1518 3237,1540 3237,1561 3243,1567"/>
<polyline class="ln" stroke-width="3" points="3200,1470 3218,1466 3230,1457"/>
<polyline class="ln" stroke-width="3" points="3221,1494 3209,1515 3200,1521"/>
<polyline class="ln" stroke-width="3" points="3295,1591 3322,1588 3340,1587"/>
<polyline class="ln" stroke-width="3" points="3371,1611 3368,1625 3359,1637 3352,1652 3346,1671 3337,1689 3334,1698"/>
<polyline class="ln" stroke-width="3" points="2561,1818 2557,1832 2554,1844 2548,1853"/>
<polyline class="ln" stroke-width="3" points="2548,1853 2557,1862 2566,1859 2575,1856 2584,1862 2587,1874 2578,1880 2569,1887 2560,1880 2557,1871 2551,1862"/>
<polyline class="ln" stroke-width="3" points="2587,1874 2596,1884 2605,1893 2615,1905 2612,1920 2602,1929 2596,1941 2584,1945 2572,1948 2560,1948 2551,1957 2548,1966 2554,1975 2563,1987"/>
<polyline class="ln" stroke-width="3" points="2596,1884 2605,1874 2612,1865 2627,1864"/>
<polyline class="ln" stroke-width="3" points="2633,1844 2645,1841 2657,1847 2666,1853 2676,1850 2670,1841 2660,1835 2657,1826 2666,1820 2673,1810 2685,1807 2691,1801 2682,1798"/>
<polyline class="ln" stroke-width="3" points="2691,1945 2700,1951 2718,1945 2727,1941 2734,1941"/>
<polyline class="ln" stroke-width="3" points="2682,1981 2688,1969 2700,1966 2715,1954 2718,1945"/>
<polyline class="ln" stroke-width="3" points="2807,1932 2819,1935 2834,1938 2849,1941 2855,1954 2840,1960 2849,1972 2843,1984 2855,1990 2852,2005 2849,2012"/>
<polyline class="ln" stroke-width="3" points="2724,1945 2727,1966 2721,1981 2730,1993 2740,2009 2752,2019"/>
<polyline class="ln" stroke-width="3" points="2966,1652 2977,1646 2989,1640 3001,1634 3010,1634"/>
<polyline class="ln" stroke-width="3" points="2959,1676 2965,1685 2965,1698"/>
<polyline class="ln" stroke-width="3" points="2989,1713 3001,1710 3010,1704 3007,1691 3010,1676 3020,1661"/>
<polyline class="ln" stroke-width="3" points="3010,1704 3013,1722 3020,1734 3016,1749 3023,1759 3035,1765 3044,1774 3053,1768 3065,1771 3080,1765 3087,1752 3084,1740 3090,1728 3102,1722 3108,1716 3117,1722 3126,1731"/>
<polyline class="ln" stroke-width="3" points="3016,1749 3007,1762 3001,1774 3007,1789 3010,1804 3004,1813 3001,1816"/>
<polyline class="ln" stroke-width="3" points="2943,1752 2952,1759"/>
<polyline class="ln" stroke-width="3" points="3032,1684 3041,1682 3053,1670 3065,1673 3074,1679 3080,1691 3093,1695 3105,1698 3117,1691 3132,1704"/>
<polyline class="ln" stroke-width="3" points="3080,1600 3093,1612 3105,1618 3123,1627 3135,1634 3154,1640 3172,1643 3187,1640 3196,1630"/>
<polyline class="ln" stroke-width="3" points="3205,1795 3212,1813 3221,1832 3224,1844 3236,1847 3239,1862 3236,1877"/>
<polyline class="ln" stroke-width="3" points="3202,1792 3196,1807 3184,1813 3172,1823 3157,1832 3145,1835"/>
<polyline class="ln" stroke-width="3" points="3145,1847 3145,1862 3148,1877 3151,1893 3151,1908 3163,1917"/>
<polyline class="ln" stroke-width="3" points="3120,1865 3123,1880 3117,1880"/>
<polyline class="ln" stroke-width="3" points="3288,1771 3300,1783 3303,1798 3312,1820 3318,1838 3324,1853 3337,1862 3330,1874 3324,1887 3312,1893 3300,1890 3283,1902"/>
<polyline class="ln" stroke-width="3" points="3291,1759 3312,1759 3334,1755 3349,1746 3364,1734"/>
<polyline class="ln" stroke-width="3" points="3361,1725 3358,1707 3364,1691 3370,1676 3367,1655 3373,1637 3370,1618 3364,1609"/>
<polyline class="ln" stroke-width="3" points="3318,1688 3330,1673 3343,1658 3352,1640 3361,1624 3370,1618"/>
<polyline class="ln" stroke-width="3" points="3337,1862 3349,1874 3355,1890 3355,1905"/>
<polyline class="ln" stroke-width="3" points="3283,1914 3294,1923 3300,1935 3297,1951 3300,1966 3300,1981 3312,1984 3330,1987 3346,1975"/>
<polyline class="ln" stroke-width="3" points="3242,1960 3254,1966 3266,1975 3276,1987 3288,1990 3300,1981"/>
<polyline class="ln" stroke-width="3" points="3290,1768 3296,1780 3302,1799 3305,1817 3314,1835 3326,1851 3332,1866 3335,1881 3345,1893 3354,1899"/>
<polyline class="ln" stroke-width="3" points="3290,1768 3305,1765 3320,1762 3335,1756 3354,1753 3366,1750 3378,1750"/>
<polyline class="ln" stroke-width="3" points="3326,1851 3314,1863 3305,1866 3302,1857 3297,1866 3296,1878 3280,1887"/>
<polyline class="ln" stroke-width="3" points="3282,1915 3293,1930 3302,1942 3299,1951 3296,1970 3296,1985 3271,1988 3262,1970 3250,1960"/>
<polyline class="ln" stroke-width="3" points="3302,1942 3311,1951 3314,1960 3329,1960 3345,1968"/>
<polyline class="ln" stroke-width="3" points="3296,1985 3311,1991 3329,1994 3335,2009"/>
<polyline class="ln" stroke-width="3" points="3341,1979 3340,1991 3335,2003"/>
<polyline class="ln" stroke-width="3" points="3366,1985 3363,1997"/>
<polyline class="ln" stroke-width="3" points="3282,2040 3287,2055 3290,2067 3288,2085 3290,2095"/>
<polyline class="ln" stroke-width="3" points="3323,2024 3329,2040 3326,2055 3317,2067 3308,2079 3299,2088 3290,2095"/>
<polyline class="ln" stroke-width="3" points="3320,2073 3335,2082 3341,2088 3363,2085 3378,2088 3384,2104 3396,2110 3409,2116 3415,2128 3421,2131 3439,2122 3454,2116 3466,2110 3476,2098 3476,2088 3463,2079"/>
<polyline class="ln" stroke-width="3" points="3341,2088 3335,2104 3326,2107 3323,2095 3320,2073"/>
<polyline class="ln" stroke-width="3" points="3366,2070 3369,2085"/>
<polyline class="ln" stroke-width="3" points="3415,2128 3402,2137 3390,2146 3381,2162 3372,2168 3366,2171"/>
<polyline class="ln" stroke-width="3" points="3335,2104 3326,2116 3311,2125 3302,2134 3308,2143 3302,2152"/>
<polyline class="ln" stroke-width="3" points="3466,2110 3473,2125 3476,2140 3479,2149 3491,2143 3506,2146 3518,2146 3534,2137 3527,2128 3530,2110 3530,2091 3537,2085 3555,2087 3570,2085 3576,2081"/>
<polyline class="ln" stroke-width="3" points="3506,2098 3518,2095 3530,2088 3534,2073 3530,2064"/>
<polyline class="ln" stroke-width="3" points="3479,2149 3482,2168 3479,2177 3470,2183 3470,2198 3463,2204 3448,2210 3433,2220 3421,2232 3418,2240"/>
<polyline class="ln" stroke-width="3" points="3518,2146 3515,2155 3534,2162 3527,2174 3534,2183"/>
<polyline class="ln" stroke-width="3" points="2387,2223 2398,2204 2407,2198 2419,2198"/>
<polyline class="ln" stroke-width="3" points="2300,2180 2315,2174 2330,2165 2346,2152 2355,2165 2358,2183 2367,2198 2376,2210"/>
<polyline class="ln" stroke-width="3" points="2355,2116 2364,2110 2385,2113 2407,2104 2425,2108"/>
<polyline class="ln" stroke-width="3" points="2373,2076 2367,2091 2358,2107 2355,2116 2358,2134 2346,2152"/>
<polyline class="ln" stroke-width="3" points="2340,2302 2361,2311 2376,2317 2398,2311 2422,2305 2440,2302 2459,2296 2465,2287 2462,2274 2468,2259 2480,2253 2495,2250 2507,2262 2516,2259 2513,2274 2520,2287 2513,2293 2504,2302 2513,2308 2526,2317 2541,2326 2550,2335 2556,2351 2550,2366 2547,2384 2550,2396 2544,2410"/>
<polyline class="ln" stroke-width="3" points="2516,2259 2532,2250 2541,2235 2541,2220 2547,2210"/>
<polyline class="ln" stroke-width="3" points="2556,2351 2568,2348 2584,2351 2593,2341 2605,2338 2614,2345 2623,2357 2632,2369"/>
<polyline class="ln" stroke-width="3" points="2593,2341 2605,2329 2617,2317 2623,2305 2620,2290 2620,2274 2611,2270"/>
<polyline class="ln" stroke-width="3" points="2675,2335 2681,2345 2693,2351 2705,2345"/>
<polyline class="ln" stroke-width="3" points="2870,2186 2879,2195 2888,2207 2895,2220 2898,2232"/>
<polyline class="ln" stroke-width="3" points="2794,2235 2803,2226 2818,2223 2837,2220 2849,2226 2864,2232 2879,2235 2898,2232 2910,2226 2925,2220 2937,2213"/>
<polyline class="ln" stroke-width="3" points="2888,2207 2898,2189 2891,2177 2898,2166"/>
<polyline class="ln" stroke-width="3" points="2837,2274 2843,2287 2846,2302 2855,2308 2867,2305 2876,2302 2888,2305 2904,2302 2910,2290 2907,2274"/>
<polyline class="ln" stroke-width="3" points="2864,2232 2867,2250 2864,2268 2873,2284 2876,2302"/>
<polyline class="ln" stroke-width="3" points="2922,2162 2928,2177 2940,2186 2955,2195 2965,2210"/>
<polyline class="ln" stroke-width="3" points="2837,2357 2840,2375 2837,2384"/>
<polyline class="ln" stroke-width="3" points="1927,2268 1944,2268 1953,2292 1949,2313 1936,2329 1957,2340 1966,2344 1970,2370 1979,2392"/>
<polyline class="ln" stroke-width="3" points="2018,2215 2023,2231 2040,2231 2062,2239 2071,2252 2084,2252 2079,2270 2101,2276 2105,2287 2097,2292 2105,2309 2114,2326"/>
<polyline class="ln" stroke-width="3" points="2018,2215 2031,2198 2049,2205 2062,2202 2062,2222"/>
<polyline class="ln" stroke-width="3" points="2153,2141 2153,2161 2127,2165 2125,2181 2140,2196 2162,2209 2188,2220 2186,2239 2179,2248 2188,2266 2179,2279 2153,2281 2142,2296 2127,2285 2105,2281"/>
<polyline class="ln" stroke-width="3" points="2188,2239 2210,2239 2214,2231 2245,2228"/>
<polyline class="ln" stroke-width="3" points="2336,2161 2314,2176 2297,2187 2301,2198"/>
<polyline class="ln" stroke-width="3" points="2345,2165 2358,2174 2354,2191 2367,2209 2378,2220"/>
<polyline class="ln" stroke-width="3" points="2103,2470 2110,2479 2127,2483 2145,2479 2158,2475"/>
<polyline class="ln" stroke-width="3" points="2060,2512 2066,2527 2057,2540"/>
<polyline class="ln" stroke-width="3" points="2162,2488 2171,2505 2188,2518 2201,2514"/>
<polygon class="g" points="2323,822 2332,824 2336,836 2332,848 2335,863 2329,870 2320,866 2313,857 2315,839 2310,839 2320,833"/>
<polygon class="g" points="2815,1105 2830,1093 2846,1077 2861,1076 2876,1071 2891,1067 2905,1064 2922,1065 2934,1073 2931,1090 2927,1105 2928,1117 2919,1120 2916,1128 2910,1145 2830,1145 2818,1123"/>
<polygon class="g" points="2340,1395 2346,1392 2359,1389 2368,1380 2374,1378 2383,1383 2395,1386 2407,1383 2413,1389 2421,1404 2432,1395 2442,1392 2444,1374 2444,1366 2459,1365 2471,1366 2477,1377 2493,1380 2505,1374 2520,1368 2532,1363 2535,1371 2529,1380 2517,1386 2514,1395 2517,1407 2526,1410 2532,1420 2529,1435 2532,1444 2541,1462 2548,1471 2548,1479 2551,1490 2557,1499 2566,1502 2572,1511 2569,1523 2560,1532 2551,1535 2557,1541 2566,1551 2564,1563 2569,1572 2560,1581 2551,1596 2538,1618 2541,1627 2532,1633 2523,1639 2508,1642 2505,1651 2493,1657 2484,1654 2474,1657 2465,1660 2453,1654 2444,1657 2435,1648 2426,1642 2420,1633 2410,1628 2398,1633 2386,1639 2374,1639 2365,1645 2352,1647 2340,1642 2331,1633 2322,1624 2310,1615 2291,1602 2316,1566 2322,1474 2322,1413"/>
<polygon class="g" points="2749,1602 2764,1605 2779,1602 2791,1609 2791,1621 2785,1630 2773,1633 2758,1633 2749,1627 2746,1615"/>
<polygon class="g" points="2459,1670 2474,1664 2487,1658 2502,1646 2514,1643 2523,1640 2535,1655 2545,1661 2560,1658 2566,1673 2572,1685 2575,1695 2569,1704 2566,1716 2572,1725 2584,1731 2587,1743 2593,1755 2596,1771 2593,1783 2590,1795 2590,1804 2578,1807 2566,1813 2561,1818 2551,1813 2548,1801 2541,1795 2545,1777 2545,1759 2541,1743 2535,1737 2523,1734 2520,1725 2526,1716 2529,1707 2523,1701 2511,1698 2508,1688 2517,1682 2511,1678 2502,1679 2499,1688 2484,1688 2468,1695 2465,1688 2471,1679 2462,1676"/>
<polygon class="g" points="2487,1951 2499,1957 2511,1960 2523,1963 2529,1975 2535,1984 2551,1986 2563,1987 2561,2002 2563,2027 2557,2042 2555,2057 2541,2054 2523,2057 2505,2057 2496,2051 2493,2039 2496,2027 2487,2021 2474,2012 2465,1996 2459,1987 2465,1975 2474,1963"/>
<polygon class="g" points="2825,1722 2837,1719 2849,1731 2865,1737 2880,1731 2900,1725 2932,1722 2932,1795 2900,1795 2886,1801 2871,1807 2855,1810 2840,1810 2834,1798 2828,1783 2825,1771 2840,1762 2834,1749 2828,1737"/>
<polygon class="g" points="2823,1725 2830,1719 2840,1728 2852,1731 2861,1734 2870,1731 2879,1725 2891,1722 2898,1716 2895,1707 2901,1698 2910,1695 2917,1688 2919,1698 2922,1707 2931,1713 2940,1719 2946,1713 2955,1704 2965,1698 2974,1695 2983,1695 2988,1704 2989,1713 2980,1719 2971,1722 2962,1728 2952,1737 2946,1743 2943,1752 2952,1759 2955,1768 2949,1777 2943,1786 2937,1792 2928,1783 2925,1774 2919,1771 2904,1777 2888,1780 2876,1786 2870,1795 2861,1804 2849,1810 2837,1807 2834,1795 2830,1783 2824,1774 2830,1765 2840,1759 2834,1746 2827,1737"/>
<polygon class="g" points="3053,1841 3062,1835 3071,1832 3077,1841 3084,1847 3087,1853 3077,1856 3068,1859 3062,1850 3053,1847"/>
<polygon class="g" points="2983,1871 2992,1865 2998,1874 3001,1884 3013,1880 3026,1884 3038,1887 3044,1877 3056,1871 3065,1868 3071,1874 3068,1890 3065,1905 3068,1920 3068,1929 3059,1932 3047,1932 3041,1938 3038,1929 3032,1917 3020,1911 3007,1908 3001,1899 2995,1890 2986,1880"/>
<polygon class="g" points="3445,1823 3451,1817 3463,1814 3470,1808 3482,1806 3494,1811 3509,1808 3524,1811 3549,1811 3549,1878 3491,1890 3479,1886 3476,1878 3466,1861 3460,1854 3457,1841 3451,1832"/>
<polygon class="g" points="3301,2209 3309,2207 3318,2211 3329,2222 3340,2224 3351,2229 3359,2231 3370,2229 3383,2229 3400,2231 3418,2240 3427,2250 3440,2264 3440,2322 3307,2322 3307,2305 3318,2298 3325,2292 3314,2290 3305,2287 3303,2276 3299,2268 3294,2257 3292,2246 3290,2237 3294,2229 3296,2220"/>
<polygon class="g" points="2963,2218 2974,2213 2987,2207 2994,2207 3005,2209 3020,2205 3031,2207 3042,2205 3052,2205 3060,2202 3062,2216 3063,2229 3057,2237 3052,2246 3050,2257 3048,2266 3042,2268 3039,2274 3044,2281 3042,2287 3031,2287 3018,2290 3013,2298 3009,2307 3007,2318 3005,2327 2996,2333 2991,2342 2985,2348 2983,2372 2944,2355 2946,2344 2952,2335 2946,2331 2939,2327 2937,2316 2939,2307 2933,2294 2937,2285 2939,2276 2944,2268 2950,2257 2957,2246 2954,2233 2959,2224"/>
<polygon class="g" points="3098,2305 3107,2304 3116,2303 3118,2316 3109,2324 3100,2324"/>
<polygon class="g" points="3119,2304 3131,2303 3135,2314 3137,2322 3120,2322"/>
<polygon class="g" points="3168,2253 3177,2248 3183,2250 3194,2246 3201,2250 3209,2255 3214,2263 3216,2274 3227,2276 3233,2279 3229,2290 3227,2300 3231,2311 3229,2322 3235,2333 3240,2344 3240,2355 3183,2355 3140,2324 3135,2307 3134,2300 3146,2298 3150,2294 3161,2296 3166,2285 3168,2272 3166,2263"/>
<polygon class="g" points="2425,2108 2434,2110 2443,2104 2452,2107 2465,2119 2477,2116 2489,2119 2501,2125 2513,2122 2529,2116 2544,2110 2561,2104 2565,2116 2570,2128 2568,2143 2562,2159 2553,2174 2544,2186 2535,2189 2526,2183 2513,2189 2498,2195 2483,2201 2471,2204 2465,2213 2462,2220 2455,2207 2446,2210 2437,2204 2428,2201 2419,2198 2416,2186 2419,2174 2410,2171 2404,2168 2413,2162 2422,2155 2425,2143 2422,2134 2431,2128 2434,2119"/>
<polygon class="b" points="2460,394 2475,409 2484,418 2490,437 2493,461 2486,479 2490,491 2493,501 2481,522 2487,534 2472,533 2460,543 2457,549 2445,543 2432,546 2414,542 2402,549 2393,562 2384,565 2374,552 2371,537 2362,522 2359,510 2350,502 2341,491 2344,476 2374,430 2420,394"/>
<polygon class="b" points="2231,647 2243,644 2252,652 2265,648 2278,653 2283,665 2286,673 2301,679 2313,687 2323,693 2327,702 2336,711 2341,723 2348,726 2335,731 2329,745 2323,757 2316,766 2315,781 2320,796 2316,815 2307,833 2283,833 2191,674"/>
<polygon class="b" points="2336,711 2350,699 2362,694 2374,693 2387,697 2399,705 2411,700 2426,702 2435,711 2451,720 2466,729 2481,740 2496,745 2505,751 2521,751 2536,754 2545,757 2554,769 2554,784 2551,799 2539,807 2524,809 2509,815 2496,824 2481,827 2469,830 2460,842 2445,836 2429,827 2414,830 2405,842 2374,857 2344,876 2320,870 2320,796 2315,781 2316,766 2323,757 2329,745 2335,731 2348,726 2341,723"/>
<polygon class="b" points="2919,916 2931,907 2946,902 2968,899 2974,907 2983,908 2986,895 2992,885 2989,881 3004,875 3013,870 3026,873 3041,859 3047,849 3048,837 3059,834 3068,843 3080,847 3093,849 3102,849 3105,840 3151,846 3227,1074 3135,1071 3120,1059 3105,1044 3093,1033 3074,1033 3044,1041 3023,1045 3010,1041 3001,1035 2989,1038 2983,1041 2983,1047 2978,1053 2965,1061 2952,1068 2942,1073 2934,1068 2922,1065 2905,1064 2891,1064 2878,1058 2882,1048 2895,1045 2910,1042 2925,1036 2913,1026 2917,1020 2920,1010 2917,995 2916,977 2919,962 2917,946 2920,931"/>
<polygon class="b" points="2843,923 2861,917 2864,902 2876,893 2888,890 2898,888 2905,898 2908,908 2907,919 2919,916 2920,931 2917,946 2914,959 2901,965 2891,960 2882,966 2873,965 2864,955 2855,946 2849,937"/>
<polygon class="b" points="3093,1082 3111,1073 3117,1076 3181,1105 3169,1119 3151,1122 3146,1135 3140,1145 3145,1151 3135,1157 3128,1155 3123,1145 3114,1132 3111,1117 3117,1102 3105,1099 3100,1090"/>
<polygon class="b" points="3009,1251 3020,1245 3032,1244 3036,1251 3029,1257 3023,1268 3013,1263"/>
<polygon class="b" points="2683,481 2698,479 2695,473 2698,461 2713,452 2726,437 2738,455 2744,458 2762,455 2780,455 2805,470 2805,485 2805,525 2796,534 2787,540 2784,555 2771,555 2768,543 2765,528 2768,516 2753,522 2747,513 2741,519 2732,517 2726,516 2713,507 2698,504 2683,508 2677,505 2683,495"/>
<polygon class="b" points="2817,595 2826,594 2835,597 2854,603 2854,627 2841,633 2829,632 2817,630 2808,626 2811,613 2814,604"/>
<polygon class="b" points="2831,653 2838,659 2848,661 2851,668 2848,674 2857,687 2841,685 2829,682 2823,674 2828,665"/>
<polygon class="b" points="2721,642 2736,641 2742,653 2758,652 2787,650 2784,665 2780,677 2785,690 2777,693 2771,690 2771,705 2756,702 2744,690 2732,680 2720,674 2715,665 2716,656"/>
<polygon class="b" points="2547,757 2559,748 2562,729 2559,720 2572,716 2591,712 2601,708 2622,702 2643,714 2659,711 2674,702 2677,690 2692,694 2695,680 2713,676 2732,680 2744,690 2756,702 2771,705 2771,711 2753,717 2747,729 2747,745 2738,754 2729,763 2732,775 2726,787 2713,790 2720,799 2698,802 2680,809 2665,818 2649,827 2637,834 2631,836 2619,821 2607,812 2588,805 2576,804 2561,805 2555,799 2555,784 2555,769"/>
<polygon class="b" points="2413,832 2426,827 2444,834 2459,840 2468,827 2484,821 2499,812 2511,806 2523,800 2535,846 2523,891 2514,891 2505,895 2487,907 2484,922 2471,934 2459,928 2450,920 2441,925 2429,922 2420,934 2410,943 2398,940 2383,891 2398,830"/>
<polygon class="b" points="2424,995 2435,986 2444,983 2453,971 2462,962 2471,966 2480,983 2484,998 2482,1013 2465,1013 2453,1020 2438,1020 2429,1013"/>
<polygon class="b" points="2575,942 2587,934 2596,952 2609,965 2618,977 2624,983 2621,992 2609,995 2596,991 2584,992 2566,995 2557,989 2555,977 2566,971 2572,965 2578,955"/>
<polygon class="b" points="2407,1034 2415,1038 2419,1048 2423,1059 2424,1075 2425,1083 2432,1087 2444,1088 2444,1129 2432,1135 2415,1140 2405,1138 2397,1135 2391,1145 2381,1151 2376,1158 2365,1154 2337,1135 2337,1074 2383,1026"/>
<polygon class="b" points="2418,1087 2538,1074 2551,1068 2557,1080 2566,1093 2563,1105 2523,1129 2520,1135 2517,1151 2502,1151 2490,1148 2480,1154 2474,1148 2465,1138 2456,1131 2444,1129 2418,1129"/>
<polygon class="b" points="2491,1026 2505,1016 2514,1013 2519,1026 2523,1041 2529,1053 2535,1062 2538,1074 2529,1077 2520,1071 2511,1074 2502,1068 2500,1056 2497,1041"/>
<polygon class="b" points="2519,1010 2529,1001 2538,1004 2548,1007 2549,1026 2545,1035 2532,1041 2523,1038 2520,1026"/>
<polygon class="b" points="2633,1080 2642,1077 2657,1071 2673,1062 2688,1056 2706,1050 2700,1038 2706,1032 2718,1026 2730,1029 2737,1038 2743,1047 2749,1053 2746,1068 2749,1080 2752,1093 2740,1102 2730,1108 2718,1114 2703,1117 2657,1117 2639,1105"/>
<polygon class="b" points="2605,1004 2618,995 2624,989 2633,995 2642,1001 2657,1010 2670,1013 2682,1020 2688,1026 2700,1038 2706,1050 2688,1056 2673,1062 2657,1071 2642,1077 2633,1080 2627,1068 2621,1056 2609,1047 2596,1041 2593,1035 2602,1026 2605,1013"/>
<polygon class="b" points="2627,983 2642,971 2648,959 2647,940 2657,936 2670,937 2679,943 2691,946 2700,954 2788,954 2795,943 2810,943 2819,952 2822,971 2819,989 2816,998 2822,1013 2819,1026 2810,1032 2798,1035 2779,1036 2767,1035 2755,1041 2743,1047 2737,1038 2730,1029 2718,1026 2706,1032 2700,1038 2688,1026 2682,1020 2670,1013 2657,1010 2642,1001 2633,995 2624,989"/>
<polygon class="b" points="2516,1181 2527,1168 2535,1159 2548,1150 2557,1148 2575,1151 2581,1169 2577,1178 2572,1185 2570,1196 2562,1202 2555,1202 2540,1194 2527,1187"/>
<polygon class="b" points="2596,1144 2607,1137 2618,1133 2631,1130 2642,1133 2642,1146 2638,1155 2636,1163 2625,1166 2614,1163 2603,1159 2598,1152"/>
<polygon class="b" points="2706,1141 2718,1138 2734,1141 2749,1148 2758,1157 2764,1160 2770,1148 2776,1145 2782,1154 2788,1166 2807,1196 2813,1205 2813,1215 2801,1212 2795,1209 2779,1215 2767,1218 2758,1221 2746,1215 2737,1212 2740,1202 2730,1193 2727,1181 2718,1172 2709,1163 2706,1151"/>
<polygon class="b" points="2331,1202 2339,1192 2350,1172 2355,1163 2360,1162 2363,1172 2368,1185 2372,1198 2379,1209 2387,1222 2374,1224 2361,1226 2349,1223 2342,1213"/>
<polygon class="b" points="2636,1467 2648,1464 2657,1468 2654,1480 2651,1493 2648,1505 2645,1517 2639,1514 2636,1505 2627,1499 2630,1487 2633,1474"/>
<polygon class="b" points="2773,1377 2779,1383 2791,1383 2798,1392 2795,1404 2788,1413 2779,1416 2770,1410 2764,1404 2759,1398 2764,1389 2770,1386"/>
<polygon class="b" points="2619,1566 2627,1557 2636,1554 2645,1557 2654,1560 2651,1569 2648,1581 2645,1593 2639,1584 2633,1575 2624,1572"/>
<polygon class="b" points="2865,1499 2871,1505 2883,1508 2892,1514 2889,1526 2892,1535 2886,1548 2877,1551 2871,1541 2865,1535 2859,1523 2852,1520 2859,1511"/>
<polygon class="b" points="2843,1371 2849,1359 2855,1362 2852,1371 2846,1380"/>
<polygon class="b" points="3116,1325 3123,1331 3135,1343 3145,1349 3160,1351 3172,1352 3181,1343 3187,1334 3186,1322 3196,1319 3209,1314 3212,1322 3227,1331 3227,1359 3196,1389 3187,1383 3181,1392 3172,1401 3163,1407 3154,1410 3145,1404 3135,1398 3126,1389 3117,1386 3111,1383 3117,1371 3123,1362 3120,1346 3117,1337"/>
<polygon class="b" points="2962,1369 2968,1383 2966,1395 2971,1407 2980,1420 2986,1432 2992,1444 2995,1462 2983,1465 2971,1470 2959,1474 2955,1484 2962,1493 2966,1500 2959,1506 2949,1499 2937,1496 2928,1497 2916,1493 2907,1484 2904,1471 2898,1459 2898,1444 2907,1438 2916,1429 2922,1416 2928,1410 2940,1401 2946,1392 2952,1380"/>
<polygon class="b" points="2864,1497 2870,1505 2879,1508 2891,1511 2895,1520 2888,1529 2882,1535 2876,1538 2870,1538 2864,1529 2855,1523 2852,1520 2859,1511"/>
<polygon class="b" points="2873,1540 2885,1532 2895,1535 2891,1545 2882,1551 2873,1548"/>
<polygon class="b" points="2843,1371 2849,1359 2855,1362 2853,1371 2846,1380"/>
<polygon class="b" points="3233,1572 3245,1569 3260,1569 3276,1575 3288,1584 3294,1593 3291,1602 3285,1609 3282,1618 3288,1627 3294,1636 3300,1639 3297,1648 3288,1657 3276,1663 3196,1663 3196,1636 3205,1612 3215,1599 3224,1584"/>
<polygon class="b" points="3192,1615 3205,1607 3212,1610 3199,1630 3195,1633"/>
<polygon class="b" points="3627,1451 3657,1463 3657,1494 3639,1497 3627,1498 3615,1494 3605,1491 3599,1482 3596,1470 3605,1463 3618,1457"/>
<polygon class="b" points="3627,1515 3639,1509 3657,1512 3657,1537 3639,1535 3630,1534 3621,1538 3624,1524"/>
<polygon class="b" points="3508,1500 3517,1494 3526,1492 3535,1494 3538,1500 3532,1509 3526,1518 3517,1515 3511,1509"/>
<polygon class="b" points="2671,1646 2685,1643 2694,1646 2703,1652 2718,1646 2730,1643 2746,1634 2758,1640 2773,1640 2782,1649 2788,1658 2795,1664 2795,1673 2804,1670 2816,1679 2828,1688 2837,1691 2837,1707 2834,1719 2825,1722 2828,1737 2819,1743 2807,1749 2795,1752 2779,1759 2776,1774 2773,1789 2770,1801 2761,1807 2749,1813 2740,1810 2730,1807 2740,1795 2740,1789 2727,1783 2718,1774 2712,1762 2703,1755 2694,1749 2682,1743 2670,1740 2657,1734 2651,1728 2654,1716 2657,1704 2654,1691 2657,1679 2666,1673 2670,1664 2673,1655"/>
<polygon class="b" points="2819,1737 2825,1743 2834,1755 2825,1765 2828,1783 2834,1798 2840,1810 2855,1810 2871,1807 2886,1801 2889,1813 2886,1826 2892,1841 2886,1853 2889,1868 2880,1871 2865,1868 2849,1865 2834,1868 2828,1859 2825,1847 2816,1832 2810,1820 2798,1813 2785,1810 2773,1813 2770,1801 2773,1789 2776,1774 2779,1759 2795,1752 2807,1749 2813,1759 2816,1752 2810,1743"/>
<polygon class="b" points="2730,1820 2743,1813 2761,1807 2773,1813 2785,1810 2798,1813 2810,1820 2816,1832 2825,1847 2828,1859 2834,1868 2828,1887 2810,1905 2813,1920 2807,1932 2791,1929 2779,1932 2764,1935 2749,1938 2734,1941 2727,1929 2724,1914 2718,1899 2724,1890 2726,1874 2727,1859 2734,1844 2740,1832 2737,1826"/>
<polygon class="b" points="2609,1835 2621,1841 2633,1844 2631,1853 2627,1864 2618,1859 2609,1856 2601,1848"/>
<polygon class="b" points="3145,1691 3154,1688 3166,1687 3181,1684 3227,1682 3300,1684 3318,1688 3321,1701 3315,1716 3300,1719 3294,1728 3288,1743 3291,1759 3288,1771 3279,1762 3270,1755 3257,1752 3245,1755 3236,1762 3227,1768 3215,1771 3209,1783 3205,1795 3199,1780 3193,1774 3181,1771 3172,1777 3160,1780 3151,1783 3145,1771 3145,1759 3148,1746 3145,1734 3135,1731 3126,1731 3132,1725 3145,1722 3151,1716 3154,1707 3141,1704 3132,1704 3135,1698"/>
<polygon class="b" points="3129,1774 3138,1771 3145,1777 3151,1783 3160,1780 3172,1777 3181,1771 3193,1774 3199,1780 3202,1792 3193,1798 3181,1798 3175,1807 3166,1810 3157,1816 3148,1826 3135,1829 3123,1829 3120,1841 3126,1850 3135,1853 3132,1859 3120,1865 3108,1868 3096,1865 3090,1856 3087,1844 3080,1832 3079,1823 3090,1820 3093,1807 3105,1804 3111,1798 3120,1795 3129,1789 3126,1783"/>
<polygon class="b" points="3074,1874 3087,1868 3099,1871 3111,1874 3117,1880 3111,1890 3114,1902 3119,1914 3111,1920 3102,1917 3093,1926 3084,1929 3077,1917 3074,1905 3071,1893"/>
<polygon class="b" points="3190,1902 3199,1899 3205,1893 3218,1890 3230,1887 3236,1877 3242,1884 3251,1890 3263,1893 3276,1896 3283,1902 3282,1914 3276,1923 3266,1932 3257,1938 3245,1945 3239,1951 3242,1960 3227,1963 3215,1966 3202,1966 3193,1960 3187,1948 3190,1935 3189,1920"/>
<polygon class="b" points="3163,1917 3175,1914 3178,1902 3187,1896 3190,1905 3189,1920 3190,1935 3175,1935 3163,1932"/>
<polygon class="b" points="2943,1911 2952,1905 2965,1900 2977,1902 2983,1911 2989,1923 2983,1932 2980,1938 2989,1948 2995,1957 2998,1966 3001,1981 3004,1996 2989,1996 2977,1993 2965,1993 2952,1996 2940,1990 2934,1981 2931,1969 2934,1957 2937,1951 2943,1945 2946,1932 2943,1923"/>
<polygon class="b" points="2950,1998 2959,2003 2967,2001 2976,1996 2985,1992 2992,1989 2997,1994 3002,1991 3002,1977 3007,1975 3016,1966 3020,1973 3027,1982 3037,1982 3048,1980 3053,1970 3055,1966 3063,1970 3072,1971 3077,1971 3082,1970 3089,1964 3086,1957 3072,1957 3070,1945 3075,1935 3084,1935 3088,1937 3084,1931 3079,1926 3075,1914 3072,1900 3114,1900 3119,1912 3112,1917 3119,1924 3124,1928 3133,1928 3142,1933 3143,1938 3150,1937 3159,1937 3159,1921 3173,1916 3176,1909 3180,1900 3194,1893 3281,1893 3283,1910 3281,1919 3276,1928 3265,1930 3257,1937 3250,1942 3244,1947 3239,1949 3243,1956 3237,1959 3230,1963 3230,1970 3229,1978 3225,1987 3218,1994 3211,1996 3211,2005 3215,2011 3208,2013 3211,2018 3224,2017 3224,2024 3217,2027 3215,2034 3211,2039 3213,2046 3218,2053 3229,2057 3236,2060 3238,2061 3246,2057 3257,2063 3270,2061 3283,2067 3288,2087 3279,2083 3272,2087 3268,2098 3266,2111 3268,2122 3259,2131 3251,2135 3253,2146 3259,2152 3259,2159 3270,2157 3279,2155 3288,2152 3299,2152 3309,2157 3318,2163 3325,2172 3333,2176 3344,2178 3355,2176 3359,2170 3370,2172 3364,2181 3362,2189 3368,2196 3377,2200 3370,2207 3366,2216 3362,2224 3359,2231 3351,2229 3340,2224 3329,2222 3325,2216 3314,2211 3305,2207 3299,2200 3294,2192 3288,2185 3277,2185 3266,2187 3253,2185 3242,2185 3240,2178 3233,2174 3222,2176 3209,2176 3194,2178 3179,2178 3161,2178 3159,2172 3144,2168 3135,2176 3126,2178 3118,2183 3107,2185 3096,2189 3083,2194 3079,2196 3070,2200 3061,2202 3052,2205 3042,2205 3031,2207 3020,2205 3005,2209 2994,2207 2987,2205 2989,2198 2983,2194 2976,2181 2972,2176 2965,2174 2968,2165 2961,2155 2965,2146 2974,2141 2972,2133 2974,2122 2972,2115 2976,2107 2981,2098 2989,2085 3002,2078 3009,2074 3005,2067 3000,2063 3007,2057 3015,2061 3022,2059 3024,2050 3023,2048 3020,2050 3011,2046 3007,2039 2995,2038 2985,2038 2973,2039 2967,2046 2964,2036 2964,2022 2957,2011 2959,2005"/>
<polygon class="b" points="3002,2062 3007,2057 3016,2060 3020,2057 3020,2072 3006,2071"/>
<polygon class="b" points="2794,2091 2803,2085 2818,2082 2837,2082 2852,2084 2867,2085 2882,2082 2891,2076 2898,2084 2907,2085 2919,2088 2917,2107 2919,2125 2920,2143 2922,2162 2910,2165 2898,2166 2888,2171 2879,2180 2870,2186 2864,2177 2858,2171 2846,2165 2834,2162 2824,2162 2812,2152 2800,2146 2791,2137 2794,2128 2797,2116 2800,2104"/>
<polygon class="b" points="2666,2259 2788,2259 2803,2280 2812,2293 2818,2308 2824,2317 2827,2329 2818,2335 2809,2338 2800,2345 2788,2351 2776,2355 2766,2360 2757,2375 2745,2369 2727,2366 2712,2357 2705,2345 2696,2338 2695,2329 2693,2314 2684,2308 2681,2299 2687,2293 2690,2280 2675,2280"/>
<polygon class="b" points="2637,2348 2648,2343 2657,2348 2660,2357 2666,2351 2675,2354 2684,2363 2693,2369 2699,2375 2684,2378 2672,2381 2663,2384 2654,2381 2645,2372 2638,2363"/>
<polygon class="b" points="2891,2314 2907,2312 2910,2323 2907,2335 2901,2343 2891,2341 2893,2326"/>
<polygon class="b" points="2053,2300 2071,2305 2084,2313 2101,2320 2114,2326 2118,2344 2123,2361 2140,2368 2142,2374 2127,2379 2123,2392 2110,2405 2105,2422 2108,2440 2101,2453 2103,2470 2088,2470 2079,2461 2066,2475 2053,2479 2040,2470 2023,2479 2016,2488 2010,2470 2018,2461 2010,2448 1997,2440 1992,2427 1983,2422 1986,2405 1981,2396 1992,2390 2007,2385 2007,2366 2014,2348 2023,2335 2027,2318 2040,2309"/>
<polygon class="b" points="2016,2501 2031,2494 2044,2501 2060,2512 2053,2520 2044,2529 2036,2525 2023,2520 2018,2512"/>
<polygon class="m" points="3087,1084 3093,1082 3100,1090 3105,1099 3117,1102 3111,1117 3114,1132 3123,1145 3128,1155 3114,1161 3108,1169 3111,1184 3105,1196 3093,1205 3087,1212 3087,1227 3094,1239 3093,1251 3087,1257 3093,1273 3087,1270 3077,1254 3056,1251 3041,1253 3038,1244 3023,1242 3007,1245 2995,1248 2983,1242 2968,1245 2966,1227 2971,1212 2966,1196 2962,1181 2962,1172 2983,1163 3007,1154 3026,1149 3044,1145 3041,1132 3059,1128 3061,1120 3053,1114 3035,1117 3041,1108 3053,1102 3068,1105 3077,1102 3084,1093"/>
<polygon class="m" points="2861,629 2878,635 2893,644 2912,647 2927,655 2948,659 2936,671 2933,680 2933,693 2921,690 2909,693 2893,688 2878,687 2863,688 2857,680 2848,673 2851,665 2848,659 2854,647"/>
<polygon class="m" points="2829,757 2838,748 2854,746 2855,757 2866,767 2875,754 2880,735 2887,731 2899,738 2915,734 2927,738 2942,743 2950,754 2963,751 2979,746 2991,745 2995,757 3006,770 2998,778 2997,793 3000,809 2997,821 3012,825 3030,819 3044,816 3047,833 3048,837 3047,849 3041,859 3026,873 3013,870 3004,875 2989,881 2992,885 2986,895 2983,908 2974,907 2968,899 2946,902 2931,907 2919,916 2907,919 2908,908 2905,898 2898,888 2885,885 2887,875 2895,866 2898,856 2888,847 2876,840 2870,830 2855,824 2846,812 2844,800 2845,805 2841,790 2835,775 2832,766"/>
<polygon class="m" points="2491,852 2496,843 2505,834 2517,818 2511,806 2523,809 2538,808 2551,803 2566,805 2581,808 2593,812 2609,818 2621,827 2633,837 2639,846 2648,858 2660,867 2670,879 2676,885 2673,898 2679,907 2682,919 2676,925 2670,931 2657,934 2647,940 2648,959 2642,971 2627,980 2624,977 2618,965 2612,955 2602,943 2593,934 2587,928 2581,931 2575,925 2563,922 2554,916 2545,913 2541,901 2538,895 2523,895 2514,891 2514,879 2505,867"/>
<polygon class="m" points="2471,934 2484,922 2487,907 2505,895 2514,891 2523,895 2538,895 2541,901 2545,913 2554,916 2563,922 2575,925 2581,931 2575,942 2578,955 2572,965 2566,971 2555,977 2551,986 2552,995 2548,1001 2538,1004 2529,998 2520,1007 2511,1013 2502,1018 2493,1013 2484,1007 2477,998 2474,983 2471,966 2474,952 2473,943"/>
<polygon class="m" points="2375,995 2383,989 2389,983 2398,977 2404,983 2413,989 2423,998 2429,1007 2426,1020 2413,1027 2398,1029 2383,1028 2368,1024 2362,1016 2362,1012 2374,1010 2377,1001"/>
<polygon class="m" points="2424,1053 2438,1052 2447,1059 2459,1056 2462,1044 2474,1041 2484,1032 2488,1029 2493,1041 2497,1056 2499,1068 2497,1080 2490,1090 2474,1087 2462,1088 2453,1080 2441,1077 2426,1076"/>
<polygon class="m" points="2746,1048 2755,1041 2767,1036 2779,1038 2798,1035 2810,1032 2822,1032 2834,1041 2843,1044 2834,1048 2836,1062 2834,1074 2837,1084 2831,1093 2822,1100 2813,1096 2804,1090 2791,1087 2779,1090 2767,1087 2755,1093 2746,1090 2740,1077 2741,1068 2746,1059"/>
<polygon class="m" points="2718,1114 2730,1108 2740,1102 2749,1093 2755,1093 2767,1087 2779,1090 2791,1087 2804,1090 2813,1096 2822,1105 2828,1117 2825,1126 2810,1129 2798,1132 2785,1135 2773,1145 2767,1154 2764,1160 2758,1157 2758,1148 2743,1141 2730,1138 2715,1137 2703,1141 2692,1138 2694,1131"/>
<polygon class="m" points="2349,1221 2361,1224 2374,1222 2385,1222 2396,1226 2405,1231 2416,1224 2426,1227 2440,1224 2448,1220 2461,1222 2474,1220 2483,1216 2494,1213 2503,1209 2501,1220 2505,1229 2514,1233 2520,1242 2531,1244 2542,1250 2539,1257 2531,1257 2527,1266 2535,1274 2535,1279 2527,1276 2520,1270 2514,1272 2516,1283 2507,1286 2496,1287 2487,1285 2477,1292 2468,1294 2461,1303 2450,1305 2446,1311 2442,1320 2435,1327 2442,1333 2446,1340 2455,1342 2453,1351 2448,1361 2440,1364 2426,1359 2416,1359 2409,1351 2407,1340 2403,1331 2405,1322 2398,1314 2403,1305 2394,1303 2385,1296 2376,1290 2385,1283 2392,1276 2400,1275 2392,1272 2383,1263 2374,1255 2366,1246 2357,1242 2350,1239 2352,1235 2349,1229"/>
<polygon class="m" points="2581,1311 2584,1316 2575,1325 2578,1337 2581,1349 2578,1362 2572,1371 2563,1377 2563,1386 2551,1389 2535,1398 2532,1410 2520,1410 2514,1407 2512,1398 2517,1386 2529,1380 2535,1371 2538,1362 2535,1352 2537,1340 2545,1334 2554,1325 2566,1322 2575,1316"/>
<polygon class="m" points="2459,1468 2468,1462 2477,1459 2477,1448 2487,1450 2499,1447 2505,1453 2514,1453 2511,1441 2520,1438 2529,1441 2535,1453 2541,1462 2548,1471 2548,1479 2535,1477 2531,1487 2526,1502 2523,1517 2517,1529 2505,1520 2493,1511 2484,1502 2474,1490 2465,1480"/>
<polygon class="m" points="2596,1462 2605,1459 2615,1462 2627,1471 2630,1484 2624,1493 2627,1505 2636,1511 2639,1517 2627,1523 2618,1529 2609,1520 2599,1520 2590,1526 2581,1535 2587,1551 2596,1560 2596,1572 2593,1581 2566,1581 2569,1572 2564,1563 2566,1551 2557,1541 2551,1535 2560,1532 2569,1523 2572,1511 2566,1502 2557,1499 2551,1490 2554,1477 2566,1484 2578,1480 2587,1474"/>
<polygon class="m" points="2828,1418 2831,1432 2828,1447 2819,1459 2816,1468 2825,1474 2837,1476 2828,1487 2816,1493 2804,1496 2791,1502 2779,1499 2767,1505 2758,1502 2749,1493 2758,1484 2761,1471 2770,1465 2785,1459 2795,1444 2807,1432 2819,1423"/>
<polygon class="m" points="2746,1502 2749,1493 2758,1502 2761,1511 2755,1523 2761,1535 2770,1548 2779,1554 2776,1563 2764,1560 2758,1566 2755,1578 2761,1587 2764,1593 2749,1596 2737,1599 2727,1609 2718,1596 2712,1581 2712,1566 2706,1554 2700,1545 2712,1541 2724,1538 2734,1529 2734,1517 2740,1508"/>
<polygon class="m" points="2758,1502 2767,1505 2779,1499 2791,1502 2804,1496 2816,1493 2830,1490 2840,1499 2850,1508 2852,1520 2855,1523 2864,1529 2870,1538 2873,1548 2882,1551 2891,1551 2891,1557 2879,1560 2867,1566 2855,1566 2846,1560 2837,1569 2827,1581 2810,1572 2798,1563 2782,1557 2770,1548 2761,1535 2755,1523 2761,1511"/>
<polygon class="m" points="2823,1224 2840,1223 2855,1227 2853,1240 2847,1252 2850,1264 2834,1276 2824,1279 2818,1276 2823,1261 2820,1246"/>
<polygon class="m" points="2809,1279 2818,1276 2824,1279 2818,1288 2817,1301 2820,1316 2809,1317 2806,1304 2808,1288"/>
<polygon class="m" points="2850,1264 2861,1261 2876,1258 2873,1270 2866,1276 2873,1288 2870,1301 2861,1307 2852,1298 2843,1291 2838,1282 2846,1276"/>
<polygon class="m" points="2876,1258 2885,1250 2895,1246 2904,1255 2916,1258 2931,1261 2946,1258 2959,1267 2965,1276 2977,1276 2980,1291 2977,1304 2983,1316 2983,1328 2974,1337 2965,1346 2962,1359 2959,1369 2954,1362 2949,1352 2937,1346 2922,1340 2907,1334 2891,1328 2876,1322 2870,1316 2861,1307 2870,1301 2873,1288 2866,1276 2873,1270"/>
<polygon class="m" points="2966,1246 2980,1241 2991,1249 2988,1258 2978,1264 2971,1273 2965,1279 2966,1261"/>
<polygon class="m" points="2898,1514 2913,1505 2928,1502 2943,1499 2952,1505 2959,1508 2955,1523 2959,1535 2971,1538 2980,1554 2986,1566 2977,1572 2965,1575 2952,1569 2940,1572 2937,1584 2937,1593 2922,1593 2907,1596 2898,1605 2882,1612 2870,1621 2858,1627 2852,1615 2843,1599 2834,1587 2827,1581 2837,1569 2846,1560 2855,1566 2867,1566 2879,1560 2891,1557 2891,1551 2895,1535 2891,1520"/>
<polygon class="m" points="2959,1474 2971,1470 2983,1465 2995,1462 3010,1465 3020,1468 3029,1477 3044,1484 3061,1487 3056,1496 3044,1502 3035,1508 3041,1517 3035,1529 3026,1538 3013,1545 3001,1551 2995,1560 2986,1566 2980,1554 2971,1538 2959,1535 2955,1523 2959,1508 2966,1500 2962,1493 2955,1484"/>
<polygon class="m" points="3041,1517 3047,1523 3044,1535 3053,1545 3065,1541 3068,1557 3074,1566 3080,1578 3085,1590 3077,1602 3071,1615 3062,1624 3053,1633 3044,1639 3050,1651 3044,1663 3035,1676 3029,1685 3020,1676 3013,1663 3010,1651 3013,1633 3013,1615 3010,1602 3001,1596 2998,1587 3013,1581 3020,1572 3013,1566 3001,1560 2995,1560 3001,1551 3013,1545 3026,1538 3035,1529"/>
<polygon class="m" points="2965,1575 2977,1572 2986,1566 2995,1560 3001,1560 3013,1566 3020,1572 3013,1581 2998,1587 2989,1593 2980,1596 2971,1590 2965,1584"/>
<polygon class="m" points="3366,1444 3383,1448 3395,1442 3401,1431 3413,1436 3426,1436 3435,1431 3444,1433 3444,1445 3456,1448 3462,1460 3471,1466 3476,1482 3471,1494 3462,1491 3459,1503 3453,1509 3458,1521 3444,1524 3435,1530 3438,1540 3453,1546 3468,1549 3476,1555 3473,1567 3476,1579 3470,1585 3468,1598 3459,1604 3459,1616 3450,1620 3435,1613 3413,1613 3407,1610 3395,1616 3383,1614 3371,1611 3365,1607 3377,1591 3362,1585 3340,1587 3343,1570 3346,1555 3337,1546 3325,1538 3325,1534 3333,1527 3334,1512 3330,1494 3331,1488 3346,1483 3359,1479 3369,1476 3371,1466 3360,1460 3365,1454"/>
<polygon class="m" points="3444,1622 3459,1619 3474,1620 3490,1623 3505,1627 3517,1623 3529,1616 3538,1610 3548,1605 3551,1595 3563,1582 3575,1576 3590,1573 3605,1570 3621,1572 3639,1569 3639,1566 3633,1555 3627,1549 3625,1540 3633,1537 3650,1543 3676,1558 3676,1814 3470,1814 3446,1816 3434,1813 3422,1807 3410,1801 3401,1798 3395,1789 3388,1777 3385,1765 3379,1752 3373,1740 3364,1734 3361,1725 3370,1719 3379,1722 3376,1716 3391,1716 3407,1720 3419,1716 3413,1716 3410,1704 3407,1689 3410,1677 3403,1674 3413,1665 3420,1655 3432,1649 3438,1637 3444,1631"/>
<polygon class="m" points="2505,1798 2514,1801 2523,1804 2535,1798 2545,1801 2548,1813 2561,1818 2557,1832 2554,1844 2548,1853 2545,1862 2538,1874 2535,1890 2538,1905 2505,1935 2474,1960 2453,1978 2444,1966 2444,1890 2456,1880 2468,1874 2480,1868 2493,1862 2505,1853 2517,1847 2514,1835 2505,1823 2502,1810"/>
<polygon class="m" points="2538,1618 2560,1617 2578,1618 2596,1621 2602,1627 2612,1621 2627,1620 2633,1627 2645,1634 2660,1627 2676,1629 2670,1640 2670,1652 2673,1664 2657,1667 2648,1676 2639,1679 2633,1673 2621,1676 2612,1667 2605,1658 2596,1655 2590,1661 2581,1655 2572,1646 2566,1655 2551,1658 2535,1658 2523,1658 2526,1652 2523,1640 2532,1634 2541,1627"/>
<polygon class="m" points="2566,1658 2572,1646 2581,1655 2590,1661 2596,1655 2605,1658 2612,1667 2621,1676 2633,1673 2633,1685 2639,1695 2654,1691 2657,1704 2654,1716 2651,1728 2657,1734 2670,1740 2682,1743 2694,1749 2688,1762 2679,1771 2673,1777 2682,1786 2680,1798 2670,1789 2657,1783 2645,1786 2633,1789 2621,1798 2609,1795 2596,1801 2593,1783 2596,1771 2593,1755 2587,1743 2584,1731 2572,1725 2566,1716 2569,1704 2575,1695 2572,1685 2566,1673"/>
<polygon class="m" points="2566,1987 2581,1984 2596,1987 2605,1975 2615,1963 2624,1954 2636,1960 2648,1966 2660,1960 2670,1951 2676,1960 2688,1957 2691,1945 2692,1963 2688,1969 2682,1981 2679,1996 2682,2012 2688,2027 2700,2033 2718,2027 2737,2022 2752,2019 2758,2033 2749,2057 2718,2118 2596,2118 2560,2057 2563,2027 2561,2002 2563,1987"/>
<polygon class="m" points="2840,1655 2846,1649 2861,1643 2864,1637 2858,1627 2870,1621 2882,1612 2898,1606 2907,1600 2934,1600 2940,1615 2937,1627 2946,1637 2959,1643 2966,1652 2962,1664 2959,1676 2943,1676 2931,1682 2922,1688 2916,1688 2910,1695 2901,1698 2895,1707 2898,1716 2891,1722 2879,1725 2870,1734 2861,1731 2849,1734 2840,1728 2835,1719 2840,1710 2837,1698 2846,1691 2843,1679 2849,1670 2846,1661"/>
<polygon class="m" points="2876,1786 2888,1780 2904,1777 2919,1771 2925,1774 2928,1783 2937,1792 2946,1789 2955,1795 2965,1807 2977,1810 2989,1813 3001,1816 3004,1826 2998,1835 2995,1844 3004,1847 3013,1853 3026,1859 3032,1868 3035,1874 3026,1877 3020,1884 3013,1880 3007,1884 2998,1887 2995,1877 2986,1871 2983,1874 2992,1887 2998,1896 2995,1905 2992,1914 2989,1923 2983,1911 2977,1902 2965,1900 2952,1905 2943,1911 2931,1911 2916,1908 2901,1908 2888,1902 2885,1890 2888,1874 2891,1859 2888,1844 2891,1832 2895,1820 2888,1810 2882,1801"/>
<polygon class="m" points="3399,1802 3412,1805 3424,1803 3436,1800 3448,1799 3460,1805 3470,1808 3463,1814 3451,1817 3445,1823 3451,1832 3457,1841 3460,1854 3466,1861 3463,1872 3451,1878 3439,1886 3430,1881 3421,1878 3412,1875 3402,1872 3393,1878 3387,1875 3384,1866 3390,1854 3393,1845 3384,1838 3384,1829 3390,1817 3393,1808"/>
<polygon class="m" points="3381,1870 3387,1875 3393,1878 3402,1872 3412,1875 3421,1878 3430,1881 3424,1890 3421,1899 3415,1902 3402,1899 3390,1901 3378,1902 3369,1899 3366,1890 3372,1881"/>
<polygon class="m" points="3355,1902 3369,1899 3378,1902 3372,1905 3384,1918 3393,1927 3402,1921 3421,1916 3433,1915 3439,1902 3463,1909 3463,1957 3445,1954 3433,1953 3421,1951 3409,1948 3396,1945 3384,1948 3372,1951 3366,1948 3363,1936 3358,1921"/>
<polygon class="m" points="3345,1968 3354,1960 3366,1957 3381,1954 3396,1953 3405,1957 3415,1959 3433,1960 3463,1959 3445,1970 3436,1979 3427,1986 3415,1991 3402,1985 3390,1980 3378,1979 3366,1976 3354,1973"/>
<polygon class="m" points="2920,2089 2933,2087 2944,2089 2954,2091 2965,2096 2976,2102 2972,2115 2970,2126 2970,2137 2963,2146 2957,2150 2944,2152 2933,2157 2924,2161 2922,2150 2922,2137 2920,2126 2917,2115 2920,2104"/>
<polygon class="m" points="2898,2050 2909,2050 2911,2061 2913,2072 2917,2078 2915,2085 2907,2086 2898,2083"/>
<polygon class="m" points="3355,1902 3358,1921 3363,1936 3366,1948 3354,1960 3345,1968 3346,1975 3357,1963 3370,1957 3364,1948 3361,1932 3358,1917 3355,1905"/>
<polygon class="m" points="2559,1982 2605,1954 2675,1963 2675,2000 2681,2012 2684,2024 2693,2030 2709,2032 2727,2027 2739,2023 2750,2020 2754,2030 2760,2046 2766,2055 2757,2064 2763,2076 2773,2088 2779,2098 2770,2101 2766,2113 2770,2122 2763,2134 2751,2137 2739,2146 2727,2152 2724,2159 2730,2171 2733,2186 2739,2198 2742,2213 2739,2232 2739,2244 2739,2259 2611,2259 2605,2256 2602,2250 2590,2241 2580,2229 2568,2216 2559,2213 2547,2210 2538,2198 2544,2186 2553,2174 2562,2159 2568,2143 2570,2128 2565,2116 2559,2104 2553,2091 2556,2076 2559,2061 2556,2046 2558,2030"/>
<polygon class="m" points="2770,2101 2779,2098 2791,2101 2800,2104 2797,2116 2794,2128 2791,2137 2800,2146 2812,2152 2824,2162 2818,2174 2812,2183 2803,2192 2794,2201 2797,2213 2800,2226 2794,2235 2791,2250 2789,2274 2783,2273 2782,2259 2739,2259 2739,2244 2742,2213 2739,2198 2733,2186 2730,2171 2724,2159 2727,2152 2739,2146 2751,2137 2763,2134 2770,2122 2766,2113"/>
<polygon class="m" points="2754,2018 2763,2012 2779,2014 2794,2009 2812,2006 2827,2008 2843,2012 2861,2014 2873,2009 2879,2018 2882,2030 2891,2037 2898,2049 2907,2058 2910,2070 2919,2082 2907,2085 2898,2084 2891,2076 2882,2082 2867,2085 2852,2084 2837,2082 2818,2082 2803,2085 2794,2091 2791,2101 2779,2098 2773,2088 2763,2076 2757,2064 2766,2055 2760,2046 2754,2030"/>
<polygon class="m" points="2919,2088 2934,2087 2949,2090 2965,2091 2977,2098 2974,2113 2971,2125 2971,2140 2962,2146 2949,2149 2934,2155 2922,2162 2920,2143 2919,2125 2917,2107"/>
<polygon class="m" points="2459,2082 2471,2076 2483,2070 2495,2064 2513,2061 2532,2056 2550,2055 2556,2061 2559,2073 2553,2082 2544,2091 2553,2098 2561,2104 2544,2110 2529,2116 2513,2122 2501,2125 2489,2119 2477,2116 2465,2119 2452,2107 2445,2098 2446,2088"/>
<polygon class="m" points="2500,2395 2507,2399 2513,2402 2521,2401 2520,2409 2513,2418 2507,2427 2501,2433 2498,2418 2497,2405"/>
<polygon class="m" points="2507,2439 2520,2439 2520,2463 2507,2463"/>
<polygon class="m" points="2153,2357 2166,2353 2184,2357 2197,2366 2193,2379 2210,2385 2219,2383 2225,2401 2240,2422 2240,2448 2214,2448 2197,2444 2179,2448 2188,2457 2206,2453 2197,2466 2184,2475 2171,2479 2158,2475 2149,2461 2136,2457 2127,2448 2114,2444 2108,2435 2105,2418 2110,2405 2123,2396 2127,2383 2142,2377 2149,2366"/>
<polygon class="m" points="2129,2469 2135,2468 2137,2477 2132,2479"/>
<polygon class="m" points="2197,2342 2214,2335 2236,2331 2258,2326 2267,2313 2284,2305 2297,2296 2314,2294 2336,2289 2343,2309 2362,2313 2367,2326 2384,2337 2371,2344 2371,2370 2349,2387 2328,2392 2297,2396 2275,2405 2258,2418 2240,2424 2236,2405 2227,2383 2223,2361 2210,2357 2197,2353"/>
<polygon class="m" points="2245,2228 2258,2218 2275,2215 2288,2205 2301,2198 2312,2205 2314,2215 2332,2220 2349,2218 2365,2228 2378,2220 2386,2226 2375,2239 2365,2250 2358,2266 2345,2272 2332,2274 2328,2287 2314,2292 2308,2279 2310,2268 2293,2268 2280,2263 2267,2252 2249,2250 2251,2239"/>
<polygon class="lb" points="2995,1570 3003,1567 3010,1572 3016,1578 3007,1581 2998,1578"/>
<polygon class="lb" points="2569,1704 2578,1701 2590,1705 2595,1713 2590,1722 2584,1731 2575,1728 2566,1719"/>
<polygon class="lb" points="2633,1685 2639,1673 2648,1666 2660,1661 2670,1664 2666,1673 2657,1679 2654,1691 2639,1695"/>
<polygon class="lb" points="3123,1829 3135,1829 3145,1835 3143,1847 3135,1853 3126,1850 3120,1841"/>
<polygon class="lb" points="3209,1896 3221,1890 3233,1890 3230,1899 3221,1908 3212,1914 3205,1905"/>
<polygon class="lb" points="3075,2025 3082,2022 3089,2022 3098,2020 3107,2020 3112,2024 3107,2029 3103,2034 3095,2039 3088,2043 3086,2052 3079,2053 3072,2050 3067,2045 3063,2041 3067,2039 3074,2036"/>
<polygon class="lb" points="3065,2074 3072,2067 3082,2062 3089,2060 3096,2064 3102,2069 3107,2076 3105,2085 3103,2093 3098,2100 3089,2104 3082,2107 3075,2106 3070,2099 3065,2092 3061,2085"/>
<polygon class="lb" points="3175,2053 3183,2052 3190,2053 3197,2048 3204,2043 3210,2048 3213,2046 3218,2053 3229,2057 3236,2060 3237,2067 3236,2074 3237,2079 3232,2090 3225,2097 3218,2100 3220,2106 3217,2111 3208,2113 3204,2109 3197,2111 3196,2100 3192,2092 3189,2085 3183,2079 3178,2071 3173,2064"/>
<polygon class="lb" points="3138,2006 3145,2005 3152,2010 3159,2013 3161,2020 3154,2024 3147,2022 3142,2015"/>
<polygon class="lb" points="3166,1989 3173,1987 3182,1991 3183,1998 3176,2003 3170,2005 3166,1998"/>
<polygon class="lb" points="2197,2359 2210,2355 2221,2361 2223,2379 2214,2383 2201,2379"/>
<polygon class="gt" points="3197,1966 3206,1966 3213,1970 3222,1970 3229,1966 3230,1971 3227,1978 3225,1987 3218,1994 3211,1996 3206,1991 3199,1991 3196,1982 3197,1973"/>
<polygon class="gt" points="3136,1996 3143,1991 3150,1991 3154,1998 3157,2005 3159,2011 3154,2008 3149,2003 3142,2001"/>
<polygon class="gt" points="3103,2034 3109,2031 3114,2029 3117,2036 3122,2043 3121,2048 3114,2050 3109,2052 3107,2057 3105,2066 3098,2060 3093,2059 3088,2057 3089,2048 3093,2043 3100,2043 3103,2039"/>
<polygon class="gt" points="3128,2074 3135,2072 3142,2071 3150,2069 3157,2071 3159,2079 3161,2085 3156,2088 3152,2093 3145,2090 3138,2092 3133,2088 3131,2081"/>
<polygon class="gt" points="3140,2093 3145,2097 3149,2104 3157,2109 3156,2118 3154,2126 3152,2135 3156,2144 3157,2153 3159,2165 3154,2169 3147,2167 3142,2161 3135,2163 3128,2158 3131,2153 3129,2146 3126,2140 3129,2135 3128,2130 3122,2126 3121,2116 3124,2113 3131,2109 3135,2102"/>
<polyline class="ln" stroke-width="3" points="2905,1065 2905,1080 2891,1090 2879,1096 2878,1111"/>
<polyline class="ln" stroke-width="3" points="3053,1033 3053,1020 3059,1013 3059,1001 3068,995 3080,992 3090,1004 3097,1007 3102,1026"/>
<polyline class="ln" stroke-width="3" points="3068,995 3062,983 3059,971 3058,959 3053,952 3047,951"/>
<polyline class="ln" stroke-width="3" points="3058,959 3062,948 3068,939"/>
<polyline class="ln" stroke-width="3" points="3068,995 3074,1010 3076,1026"/>
<polyline class="ln" stroke-width="3" points="2913,1026 2925,1032 2942,1032 2943,1041 2937,1047 2922,1055 2907,1061"/>
<polyline class="ln" stroke-width="3" points="2710,479 2713,491 2729,498 2744,504 2750,504 2765,501 2784,498 2797,499"/>
<polyline class="ln" stroke-width="3" points="2753,470 2759,479 2756,491 2747,498 2744,504"/>
<polyline class="ln" stroke-width="3" points="2759,479 2774,476 2784,469 2793,470"/>
<polyline class="ln" stroke-width="3" points="2750,504 2750,513 2753,522"/>
<polyline class="ln" stroke-width="3" points="2765,501 2774,510 2768,516"/>
<polyline class="ln" stroke-width="3" points="2391,1055 2383,1068 2374,1080 2368,1096 2366,1108 2371,1117 2380,1120 2386,1116 2392,1123 2401,1131 2410,1135 2415,1140"/>
<polyline class="ln" stroke-width="3" points="2715,983 2715,1007 2730,1010 2732,1020 2737,1029"/>
<polyline class="ln" stroke-width="3" points="2557,1174 2553,1176 2555,1189 2559,1194 2557,1200"/>
<polyline class="ln" stroke-width="3" points="2557,1178 2570,1176 2577,1178"/>
<polyline class="ln" stroke-width="3" points="2871,1538 2880,1532 2891,1534"/>
<polyline class="ln" stroke-width="3" points="2828,1502 2822,1520 2828,1541 2822,1554 2819,1566 2825,1578"/>
<polyline class="ln" stroke-width="3" points="3166,1360 3175,1371 3184,1380 3190,1383"/>
<polyline class="ln" stroke-width="3" points="3639,1569 3651,1567"/>
<polyline class="ln" stroke-width="3" points="3551,1595 3557,1607 3563,1619 3572,1620 3584,1625 3587,1633 3596,1631 3609,1634 3621,1631 3633,1637 3639,1634"/>
<polyline class="ln" stroke-width="3" points="3563,1619 3554,1628 3552,1640 3560,1646 3563,1655 3551,1662 3545,1671 3532,1677 3523,1683 3523,1698 3517,1707 3511,1720 3505,1729 3502,1740 3500,1753"/>
<polyline class="ln" stroke-width="3" points="3419,1716 3437,1722 3443,1734 3452,1743 3465,1749 3480,1752 3489,1762 3500,1765"/>
<polyline class="ln" stroke-width="3" points="3500,1753 3508,1750 3517,1756 3520,1765 3511,1771 3500,1765"/>
<polyline class="ln" stroke-width="3" points="3500,1765 3493,1774 3484,1787 3474,1799 3470,1807"/>
<polyline class="ln" stroke-width="3" points="2703,1652 2703,1664 2712,1673 2724,1676 2727,1685 2737,1695 2743,1704 2755,1707 2764,1704 2773,1701 2779,1691 2791,1685 2795,1673"/>
<polyline class="ln" stroke-width="3" points="2599,1621 2602,1640 2605,1658"/>
<polyline class="ln" stroke-width="3" points="3242,1685 3251,1695 3263,1704 3279,1713 3294,1719"/>
<polyline class="ln" stroke-width="3" points="3002,1977 3002,1991 3001,2005 3011,2008 3007,2015 3009,2022 3013,2027 3023,2024 3032,2025 3041,2029 3044,2032 3046,2038"/>
<polyline class="ln" stroke-width="3" points="3053,1970 3056,1978 3055,1987 3058,1996 3056,2005 3055,2015 3055,2022 3053,2034"/>
<polyline class="ln" stroke-width="3" points="3077,1971 3082,1982 3086,1994 3081,2001 3075,2005 3082,2006 3086,2011 3082,2022 3075,2025"/>
<polyline class="ln" stroke-width="3" points="3103,1961 3110,1970 3116,1978 3122,1985 3129,1994 3136,1998"/>
<polyline class="ln" stroke-width="3" points="3081,1971 3089,1968 3098,1964 3103,1961 3110,1957 3121,1952 3131,1949 3142,1947 3143,1938"/>
<polyline class="ln" stroke-width="3" points="3143,1947 3150,1956 3154,1963 3152,1970 3147,1977 3145,1985 3143,1991"/>
<polyline class="ln" stroke-width="3" points="3154,1970 3164,1970 3176,1970 3185,1957 3187,1947 3185,1937"/>
<polyline class="ln" stroke-width="3" points="3176,1970 3175,1978 3178,1985 3187,1989 3192,1992 3194,1987"/>
<polyline class="ln" stroke-width="3" points="3086,1994 3095,1996 3102,1994 3107,2001 3116,2005 3124,2005 3135,2005"/>
<polyline class="ln" stroke-width="3" points="3082,2022 3089,2020 3098,2020 3107,2018 3116,2017 3121,2020 3124,2011 3126,2005"/>
<polyline class="ln" stroke-width="3" points="3124,2008 3128,2018 3133,2027 3140,2034 3145,2032 3152,2029 3154,2024"/>
<polyline class="ln" stroke-width="3" points="3131,2011 3136,2020 3142,2025"/>
<polyline class="ln" stroke-width="3" points="3122,2038 3131,2043 3140,2039 3143,2045 3147,2050 3152,2053 3156,2057"/>
<polyline class="ln" stroke-width="3" points="3152,2029 3150,2036 3154,2043 3156,2050 3157,2057 3159,2062 3168,2057"/>
<polyline class="ln" stroke-width="3" points="3159,2029 3163,2036 3166,2043 3168,2050"/>
<polyline class="ln" stroke-width="3" points="3164,2018 3175,2020 3176,2027 3178,2036 3175,2043 3175,2050"/>
<polyline class="ln" stroke-width="3" points="3182,2022 3182,2031 3190,2034 3194,2041 3197,2048"/>
<polyline class="ln" stroke-width="3" points="3173,2011 3182,2005 3189,2011 3190,2022 3201,2024 3211,2020"/>
<polyline class="ln" stroke-width="3" points="3189,1998 3197,1998 3208,1996"/>
<polyline class="ln" stroke-width="3" points="3121,2052 3124,2060 3126,2069 3128,2074"/>
<polyline class="ln" stroke-width="3" points="3124,2052 3131,2050 3138,2052 3143,2057 3152,2059 3156,2066 3157,2071"/>
<polyline class="ln" stroke-width="3" points="3110,2090 3117,2078 3124,2074"/>
<polyline class="ln" stroke-width="3" points="3110,2090 3114,2099 3117,2107 3121,2116"/>
<polyline class="ln" stroke-width="3" points="3159,2062 3159,2071"/>
<polyline class="ln" stroke-width="3" points="3161,2085 3168,2081 3173,2074 3176,2069"/>
<polyline class="ln" stroke-width="3" points="3020,2072 3025,2074 3030,2078 3037,2085 3041,2090 3051,2088 3061,2085"/>
<polyline class="ln" stroke-width="3" points="3025,2050 3023,2060 3020,2072"/>
<polyline class="ln" stroke-width="3" points="3046,2038 3049,2046 3055,2053 3058,2064 3061,2072 3065,2074"/>
<polyline class="ln" stroke-width="3" points="3034,2048 3046,2052 3055,2053"/>
<polyline class="ln" stroke-width="3" points="2980,2099 2988,2085 2999,2079 3011,2076 3020,2072"/>
<polyline class="ln" stroke-width="3" points="2988,2085 2992,2097 2994,2109 2992,2121 3002,2109 3011,2107 3020,2118 3034,2123 3044,2126 3046,2121 3042,2114 3048,2109 3055,2106 3061,2100 3065,2092"/>
<polyline class="ln" stroke-width="3" points="3016,2106 3020,2097 3028,2095 3037,2092 3041,2090"/>
<polyline class="ln" stroke-width="3" points="2992,2121 2988,2135 2987,2149 2995,2156 3007,2158 3014,2167 3020,2158 3034,2161 3042,2151 3053,2154 3056,2163 3068,2167 3079,2165"/>
<polyline class="ln" stroke-width="3" points="3065,2100 3068,2107 3081,2109 3084,2118 3086,2128 3082,2137 3074,2139 3075,2147 3072,2153 3079,2158 3081,2170 3082,2182 3081,2196"/>
<polyline class="ln" stroke-width="3" points="3159,2114 3168,2109 3175,2102 3185,2093 3192,2092"/>
<polyline class="ln" stroke-width="3" points="3159,2123 3159,2114"/>
<polyline class="ln" stroke-width="3" points="3197,2111 3203,2107 3206,2116 3210,2126 3208,2137 3204,2147 3208,2158 3211,2168 3213,2179 3211,2187"/>
<polyline class="ln" stroke-width="3" points="3159,2172 3159,2155 3155,2137 3157,2124"/>
<polyline class="ln" stroke-width="3" points="3079,2196 3081,2181 3079,2165 3074,2155 3072,2144 3083,2137 3085,2122 3083,2109"/>
<polyline class="ln" stroke-width="3" points="3248,2165 3253,2159 3259,2159"/>
<polyline class="ln" stroke-width="3" points="3325,2292 3336,2287 3346,2286 3357,2290 3368,2287 3377,2290 3386,2286"/>
<polyline class="ln" stroke-width="3" points="3201,2290 3207,2279 3211,2276"/>
<polyline class="ln" stroke-width="3" points="3201,2290 3205,2298 3209,2307 3207,2318 3214,2329 3214,2335"/>
<polyline class="ln" stroke-width="3" points="3168,2298 3177,2305 3183,2314 3192,2318 3194,2327"/>
<polyline class="ln" stroke-width="3" points="2660,2357 2663,2369 2666,2378"/>
<polyline class="ln" stroke-width="5" points="1809,2431 1805,2444 1822,2440 1835,2448 1844,2459"/>
<polyline class="ln" stroke-width="5" points="1879,2499 1883,2514 1894,2512 1890,2527"/>
<polyline class="ln" stroke-width="5" points="1936,2509 1938,2522"/>
<polyline class="ln" stroke-width="8" points="1979,2499 1988,2509 2001,2505 2010,2514 2016,2531"/>
<polyline class="ln" stroke-width="5" points="1992,2494 1990,2507"/>
<polyline class="ln" stroke-width="6" points="2001,2483 2005,2501 2014,2514"/>
<polyline class="ln" stroke-width="7" points="1783,2553 1774,2566 1779,2577 1761,2583 1748,2583 1766,2592 1761,2605"/>
<polyline class="ln" stroke-width="5" points="1779,2577 1796,2570"/>
<polyline class="ln" stroke-width="6" points="1718,2634 1735,2629 1753,2629"/>
<polyline class="ln" stroke-width="8" points="2179,2448 2197,2446 2214,2448"/>
<polyline class="ln" stroke-width="6" points="2136,2566 2132,2579 2140,2583"/>
<polyline class="ln" stroke-width="5" points="2088,2531 2084,2549"/>
<polyline class="ln" stroke-width="5" points="2049,2533 2057,2544"/>
</g>
</g>
<g id="labels">
<text class="ct" x="2452" y="451" textLength="534" lengthAdjust="spacingAndGlyphs">NEWCASTLE UPON TYNE</text>
<text class="ct" x="2691" y="982" textLength="128" lengthAdjust="spacingAndGlyphs">LEEDS</text>
<text class="ct" x="2418" y="1128" textLength="300" lengthAdjust="spacingAndGlyphs">MANCHESTER</text>
<text class="ct" x="2120" y="1200" textLength="240" lengthAdjust="spacingAndGlyphs">LIVERPOOL</text>
<text class="ct" x="2799" y="1165" textLength="222" lengthAdjust="spacingAndGlyphs">SHEFFIELD</text>
<text class="ct" x="2705" y="1358" textLength="309" lengthAdjust="spacingAndGlyphs">NOTTINGHAM</text>
<text class="ct" x="2328" y="1613" textLength="308" lengthAdjust="spacingAndGlyphs">BIRMINGHAM</text>
<text class="ct" x="3084" y="1681" textLength="265" lengthAdjust="spacingAndGlyphs">CAMBRIDGE</text>
<text class="ct" x="2749" y="1891" textLength="184" lengthAdjust="spacingAndGlyphs">OXFORD</text>
<text class="ct" x="2383" y="2026" textLength="178" lengthAdjust="spacingAndGlyphs">BRISTOL</text>
<text class="ct" x="2619" y="2268" textLength="355" lengthAdjust="spacingAndGlyphs">SOUTHAMPTON</text>
<circle class="cd" cx="2731" cy="480" r="17.500"/>
<circle class="cd" cx="2758" cy="1009" r="17.500"/>
<circle class="cd" cx="2573" cy="1154" r="17.500"/>
<circle class="cd" cx="2387" cy="1182" r="17.500"/>
<circle class="cd" cx="2781" cy="1192" r="17.500"/>
<circle class="cd" cx="2865" cy="1385" r="17.500"/>
<circle class="cd" cx="2667" cy="1595" r="17.500"/>
<circle class="cd" cx="3220" cy="1707" r="17.500"/>
<circle class="cd" cx="2846" cy="1918" r="17.500"/>
<circle class="cd" cx="2475" cy="2053" r="17.500"/>
<circle class="cd" cx="2804" cy="2295" r="17.500"/>
</g>
<g id="heading">
<text class="title" x="129" y="214" textLength="1552" lengthAdjust="spacingAndGlyphs">Change in outcome of standard method</text>
<text class="sub" x="129" y="321" textLength="1672" lengthAdjust="spacingAndGlyphs">2014-based household projections v 2016-based</text>
<text class="sub" x="129" y="425" textLength="768" lengthAdjust="spacingAndGlyphs">household projections</text>
</g>
<g id="legend">
<rect class="swo" x="125" y="459" width="161" height="74"/><rect class="sw" x="128.500" y="462.5" width="154" height="67" fill="#8c0046"/>
<rect class="swo" x="125" y="541" width="161" height="74"/><rect class="sw" x="128.500" y="544.5" width="154" height="67" fill="#a0a0a0"/>
<rect class="swo" x="125" y="622" width="161" height="74"/><rect class="sw" x="128.500" y="625.5" width="154" height="67" fill="#b3e5fc"/>
<rect class="swo" x="125" y="703" width="161" height="74"/><rect class="sw" x="128.500" y="706.5" width="154" height="67" fill="#0094e0"/>
<text class="lg" x="300" y="520" textLength="876" lengthAdjust="spacingAndGlyphs">Increase in implied housing need</text>
<text class="lg" x="300" y="601" textLength="935" lengthAdjust="spacingAndGlyphs">No change in implied housing need</text>
<text class="lg" x="300" y="682" textLength="1204" lengthAdjust="spacingAndGlyphs">Up to 25% reduction in implied housing need</text>
<text class="lg" x="300" y="763" textLength="1341" lengthAdjust="spacingAndGlyphs">More than 25% reduction in implied housing need</text>
</g>
<g id="logo">
<text class="logo" x="3363" y="2657" textLength="513" lengthAdjust="spacingAndGlyphs">Turley</text>
</g>
</svg>
</body>
</html>
